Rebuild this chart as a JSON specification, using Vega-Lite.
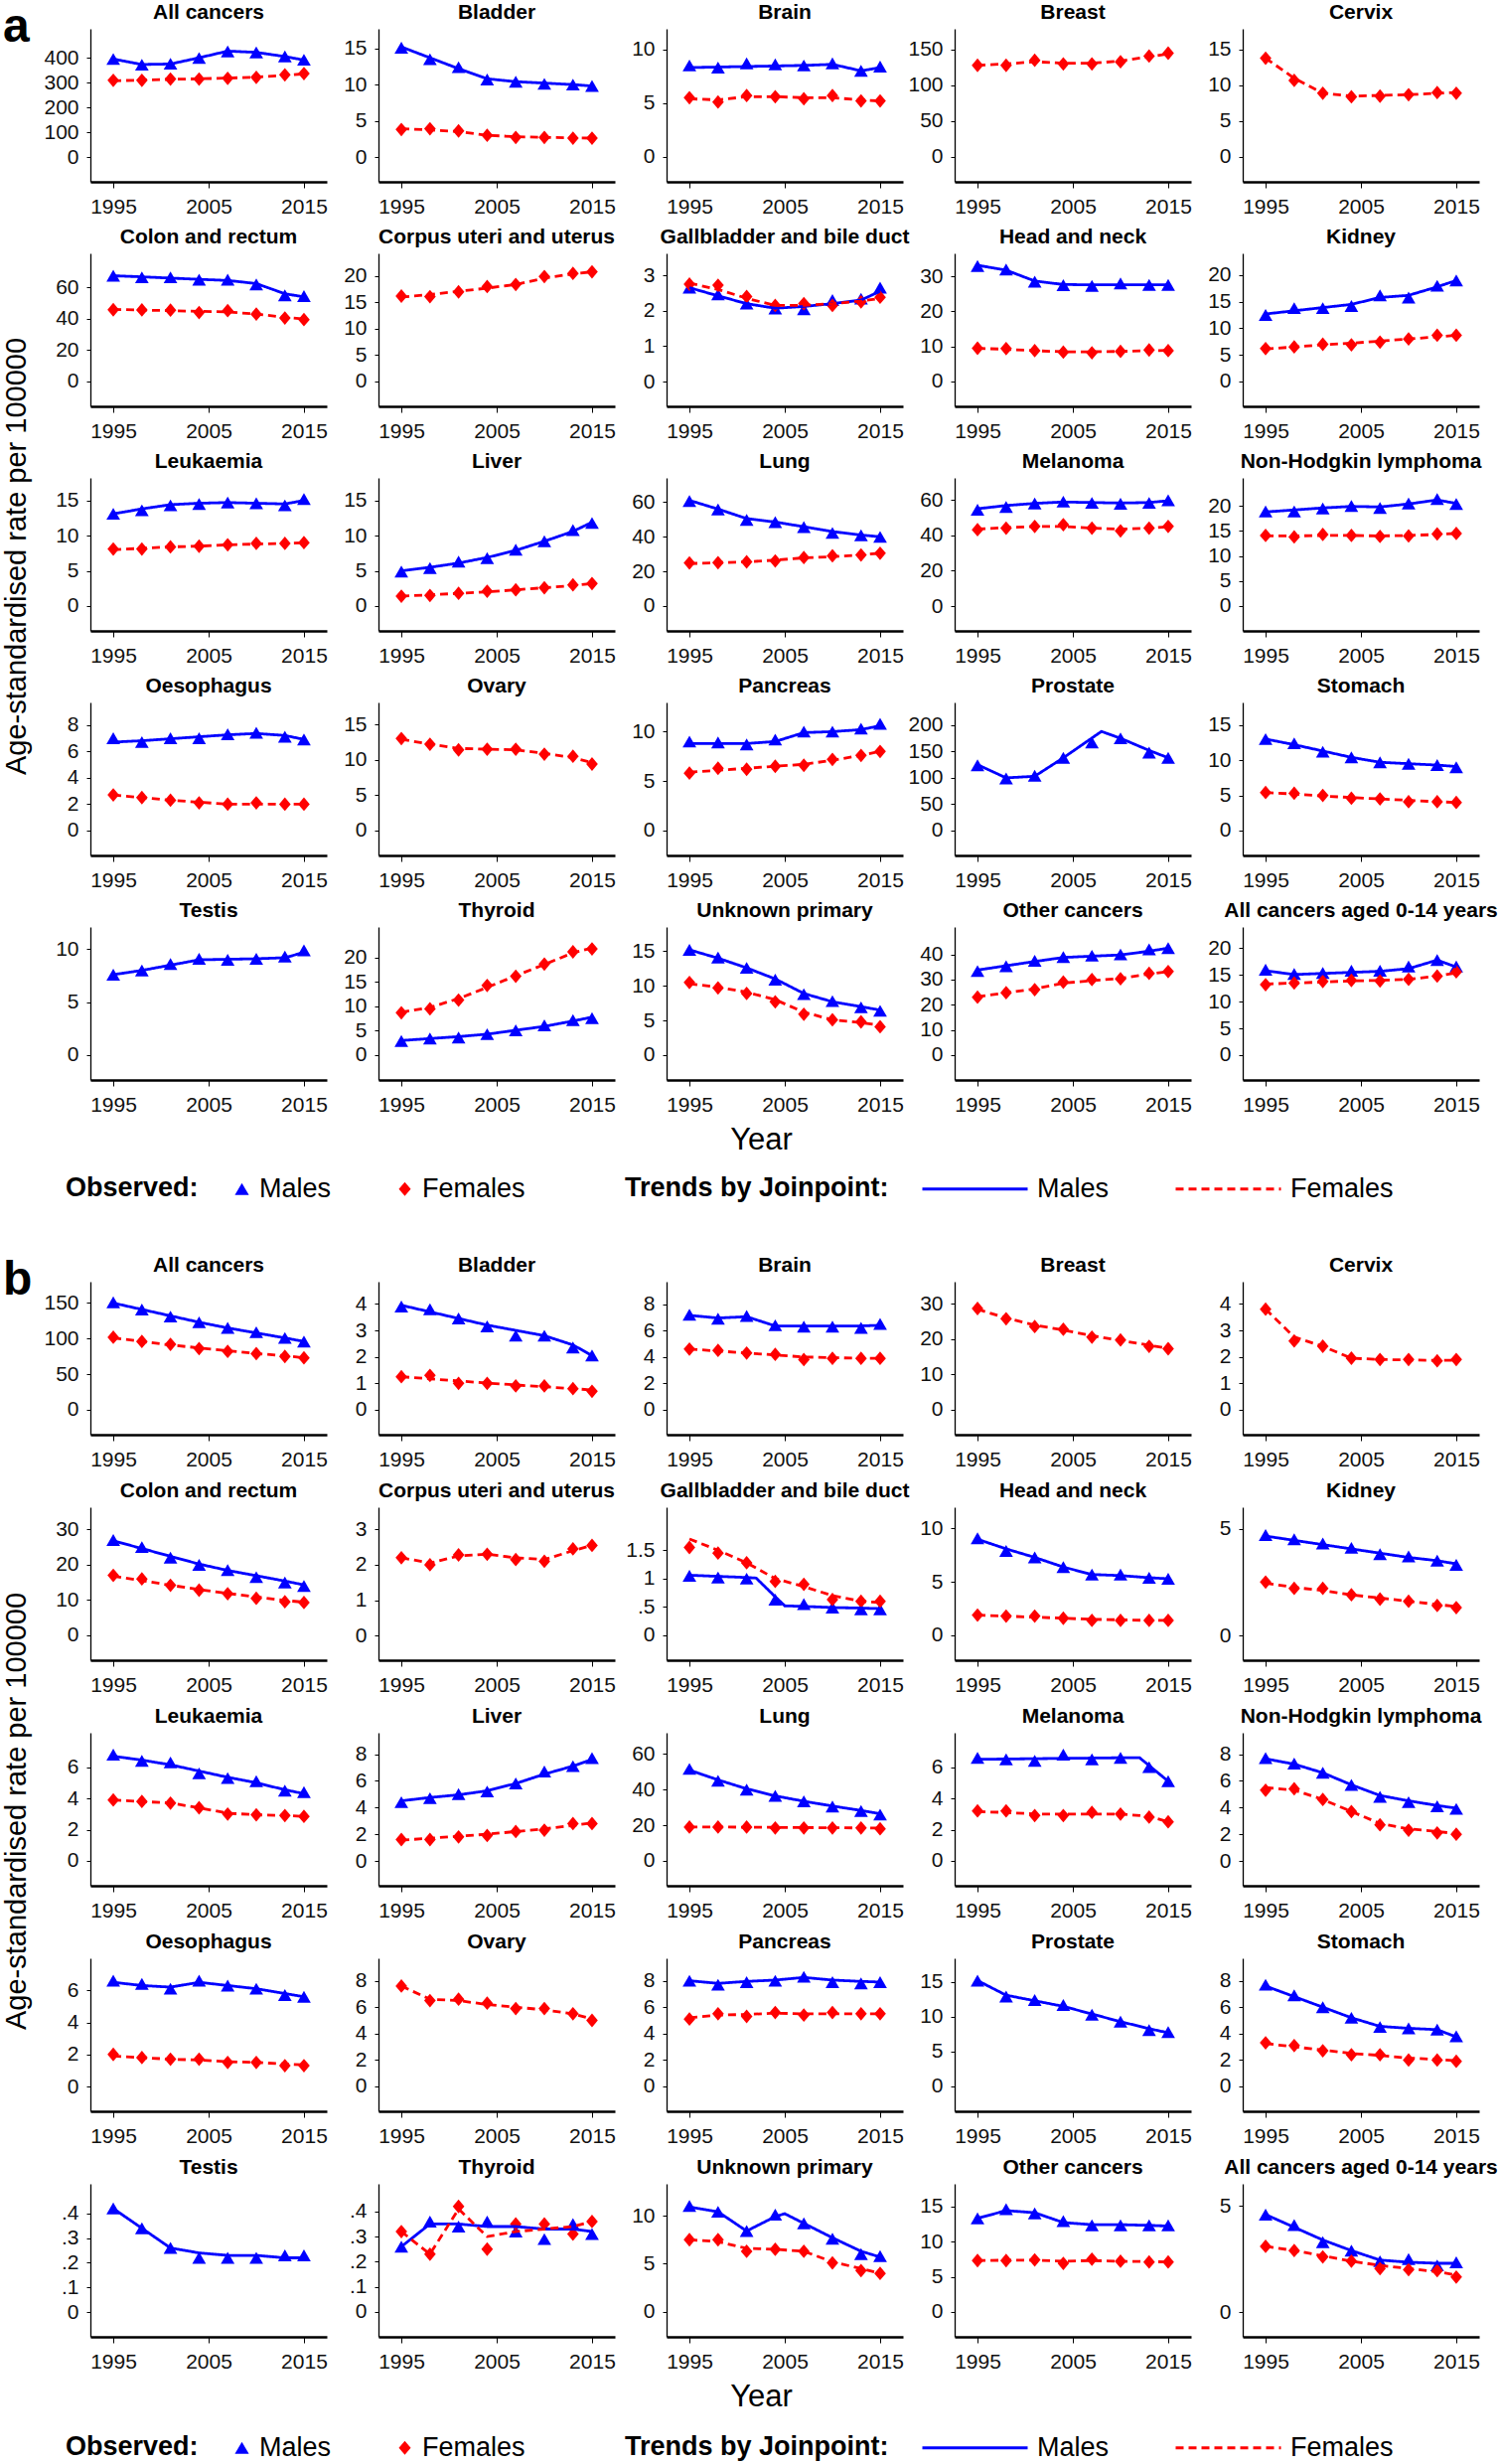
{
"$schema": "https://vega.github.io/schema/vega-lite/v6.json",
"padding": {"left": 2, "top": 2, "right": 2, "bottom": 2},
"datasets": {
"a": [
{"s":"All cancers","yr":1995,"Males":396,"Females":310,"tM":396,"tF":308},
{"s":"All cancers","yr":1998,"Males":373,"Females":310,"tM":374,"tF":311},
{"s":"All cancers","yr":2001,"Males":377,"Females":315,"tM":376,"tF":314},
{"s":"All cancers","yr":2004,"Males":400,"Females":315,"tM":401,"tF":316},
{"s":"All cancers","yr":2007,"Males":427,"Females":318,"tM":428,"tF":319},
{"s":"All cancers","yr":2010,"Males":423,"Females":322,"tM":423,"tF":323},
{"s":"All cancers","yr":2013,"Males":407,"Females":332,"tM":406,"tF":330},
{"s":"All cancers","yr":2015,"Males":393,"Females":337,"tM":392,"tF":336},
{"s":"Bladder","yr":1995,"Males":15.1,"Females":3.8,"tM":15.2,"tF":3.9},
{"s":"Bladder","yr":1998,"Males":13.5,"Females":3.9,"tM":13.7,"tF":3.75},
{"s":"Bladder","yr":2001,"Males":12.4,"Females":3.6,"tM":12.2,"tF":3.5},
{"s":"Bladder","yr":2004,"Males":10.7,"Females":3.0,"tM":10.8,"tF":3.0},
{"s":"Bladder","yr":2007,"Males":10.4,"Females":2.7,"tM":10.4,"tF":2.8},
{"s":"Bladder","yr":2010,"Males":10.1,"Females":2.7,"tM":10.2,"tF":2.7},
{"s":"Bladder","yr":2013,"Males":10.0,"Females":2.6,"tM":10.0,"tF":2.65},
{"s":"Bladder","yr":2015,"Males":9.8,"Females":2.6,"tM":9.8,"tF":2.6},
{"s":"Brain","yr":1995,"Males":8.5,"Females":5.5,"tM":8.3,"tF":5.4},
{"s":"Brain","yr":1998,"Males":8.3,"Females":5.1,"tM":8.35,"tF":5.3},
{"s":"Brain","yr":2001,"Males":8.7,"Females":5.7,"tM":8.4,"tF":5.6},
{"s":"Brain","yr":2004,"Males":8.6,"Females":5.6,"tM":8.45,"tF":5.6},
{"s":"Brain","yr":2007,"Males":8.5,"Females":5.4,"tM":8.5,"tF":5.5},
{"s":"Brain","yr":2010,"Males":8.7,"Females":5.7,"tM":8.6,"tF":5.5},
{"s":"Brain","yr":2013,"Males":8.0,"Females":5.2,"tM":8.0,"tF":5.3},
{"s":"Brain","yr":2015,"Males":8.4,"Females":5.2,"tM":8.3,"tF":5.2},
{"s":"Breast","yr":1995,"Females":128,"tF":128},
{"s":"Breast","yr":1998,"Females":128,"tF":130},
{"s":"Breast","yr":2001,"Females":135,"tF":133},
{"s":"Breast","yr":2004,"Females":130,"tF":131},
{"s":"Breast","yr":2007,"Females":130,"tF":131},
{"s":"Breast","yr":2010,"Females":133,"tF":134},
{"s":"Breast","yr":2013,"Females":141,"tF":140},
{"s":"Breast","yr":2015,"Females":145,"tF":144},
{"s":"Cervix","yr":1995,"Females":13.8,"tF":13.8},
{"s":"Cervix","yr":1998,"Females":10.7,"tF":11.0},
{"s":"Cervix","yr":2001,"Females":8.9,"tF":8.9},
{"s":"Cervix","yr":2004,"Females":8.4,"tF":8.5},
{"s":"Cervix","yr":2007,"Females":8.5,"tF":8.6},
{"s":"Cervix","yr":2010,"Females":8.7,"tF":8.7},
{"s":"Cervix","yr":2013,"Females":9.0,"tF":8.9},
{"s":"Cervix","yr":2015,"Females":8.9,"tF":9.0},
{"s":"Colon and rectum","yr":1995,"Males":67.5,"Females":45.8,"tM":67.5,"tF":46},
{"s":"Colon and rectum","yr":1998,"Males":66.5,"Females":45.7,"tM":66.8,"tF":45.6},
{"s":"Colon and rectum","yr":2001,"Males":66.5,"Females":45.5,"tM":66,"tF":45.2},
{"s":"Colon and rectum","yr":2004,"Males":65,"Females":44,"tM":65.2,"tF":44.8},
{"s":"Colon and rectum","yr":2007,"Males":65,"Females":45.2,"tM":64.5,"tF":44.4},
{"s":"Colon and rectum","yr":2010,"Males":62,"Females":43,"tM":62.5,"tF":43},
{"s":"Colon and rectum","yr":2013,"Males":55,"Females":40.5,"tM":56,"tF":41},
{"s":"Colon and rectum","yr":2015,"Males":54.5,"Females":39.5,"tM":54,"tF":39.8},
{"s":"Corpus uteri and uterus","yr":1995,"Females":16.2,"tF":16},
{"s":"Corpus uteri and uterus","yr":1998,"Females":16.1,"tF":16.5},
{"s":"Corpus uteri and uterus","yr":2001,"Females":17,"tF":17.1},
{"s":"Corpus uteri and uterus","yr":2004,"Females":18,"tF":17.7},
{"s":"Corpus uteri and uterus","yr":2007,"Females":18.4,"tF":18.4},
{"s":"Corpus uteri and uterus","yr":2010,"Females":19.9,"tF":19.6},
{"s":"Corpus uteri and uterus","yr":2013,"Females":20.5,"tF":20.4},
{"s":"Corpus uteri and uterus","yr":2015,"Females":20.8,"tF":20.8},
{"s":"Gallbladder and bile duct","yr":1995,"Males":2.65,"Females":2.75,"tM":2.65,"tF":2.78},
{"s":"Gallbladder and bile duct","yr":1998,"Males":2.46,"Females":2.72,"tM":2.42,"tF":2.6},
{"s":"Gallbladder and bile duct","yr":2001,"Males":2.2,"Females":2.4,"tM":2.2,"tF":2.35},
{"s":"Gallbladder and bile duct","yr":2004,"Males":2.06,"Females":2.15,"tM":2.07,"tF":2.15},
{"s":"Gallbladder and bile duct","yr":2007,"Males":2.04,"Females":2.2,"tM":2.12,"tF":2.15},
{"s":"Gallbladder and bile duct","yr":2010,"Males":2.3,"Females":2.15,"tM":2.2,"tF":2.2},
{"s":"Gallbladder and bile duct","yr":2013,"Males":2.34,"Females":2.25,"tM":2.3,"tF":2.27},
{"s":"Gallbladder and bile duct","yr":2015,"Males":2.65,"Females":2.38,"tM":2.55,"tF":2.35},
{"s":"Head and neck","yr":1995,"Males":33,"Females":9.5,"tM":33.2,"tF":9.5},
{"s":"Head and neck","yr":1998,"Males":32,"Females":9.4,"tM":31.8,"tF":9.2},
{"s":"Head and neck","yr":2001,"Males":28.5,"Females":8.8,"tM":28.7,"tF":8.8},
{"s":"Head and neck","yr":2004,"Males":27.5,"Females":8.4,"tM":27.7,"tF":8.5},
{"s":"Head and neck","yr":2007,"Males":27.3,"Females":8.2,"tM":27.6,"tF":8.5},
{"s":"Head and neck","yr":2010,"Males":28,"Females":8.6,"tM":27.6,"tF":8.6},
{"s":"Head and neck","yr":2013,"Males":27.6,"Females":9.0,"tM":27.6,"tF":8.8},
{"s":"Head and neck","yr":2015,"Males":27.6,"Females":8.8,"tM":27.6,"tF":8.9},
{"s":"Kidney","yr":1995,"Males":12.5,"Females":6.2,"tM":12.7,"tF":6.1},
{"s":"Kidney","yr":1998,"Males":13.8,"Females":6.5,"tM":13.3,"tF":6.5},
{"s":"Kidney","yr":2001,"Males":13.8,"Females":7.0,"tM":13.9,"tF":6.9},
{"s":"Kidney","yr":2004,"Males":14.2,"Females":6.9,"tM":14.5,"tF":7.2},
{"s":"Kidney","yr":2007,"Males":16.2,"Females":7.4,"tM":15.8,"tF":7.6},
{"s":"Kidney","yr":2010,"Males":15.8,"Females":8.0,"tM":16.2,"tF":8.0},
{"s":"Kidney","yr":2013,"Males":18,"Females":8.7,"tM":17.8,"tF":8.4},
{"s":"Kidney","yr":2015,"Males":19,"Females":8.7,"tM":19,"tF":8.7},
{"s":"Leukaemia","yr":1995,"Males":13.1,"Females":8.1,"tM":13.1,"tF":8.0},
{"s":"Leukaemia","yr":1998,"Males":13.6,"Females":8.1,"tM":13.8,"tF":8.2},
{"s":"Leukaemia","yr":2001,"Males":14.3,"Females":8.4,"tM":14.4,"tF":8.4},
{"s":"Leukaemia","yr":2004,"Males":14.5,"Females":8.5,"tM":14.6,"tF":8.5},
{"s":"Leukaemia","yr":2007,"Males":14.7,"Females":8.7,"tM":14.7,"tF":8.7},
{"s":"Leukaemia","yr":2010,"Males":14.6,"Females":8.9,"tM":14.6,"tF":8.8},
{"s":"Leukaemia","yr":2013,"Males":14.3,"Females":8.9,"tM":14.5,"tF":8.9},
{"s":"Leukaemia","yr":2015,"Males":15.2,"Females":9.0,"tM":15.0,"tF":9.0},
{"s":"Liver","yr":1995,"Males":4.9,"Females":1.4,"tM":5.0,"tF":1.4},
{"s":"Liver","yr":1998,"Males":5.4,"Females":1.5,"tM":5.5,"tF":1.6},
{"s":"Liver","yr":2001,"Males":6.3,"Females":1.8,"tM":6.1,"tF":1.8},
{"s":"Liver","yr":2004,"Males":6.8,"Females":2.1,"tM":6.9,"tF":2.0},
{"s":"Liver","yr":2007,"Males":8.0,"Females":2.3,"tM":7.9,"tF":2.3},
{"s":"Liver","yr":2010,"Males":9.2,"Females":2.6,"tM":9.2,"tF":2.6},
{"s":"Liver","yr":2013,"Males":10.8,"Females":3.0,"tM":10.6,"tF":2.9},
{"s":"Liver","yr":2015,"Males":11.8,"Females":3.2,"tM":11.9,"tF":3.2},
{"s":"Lung","yr":1995,"Males":60.6,"Females":24.9,"tM":61,"tF":24.5},
{"s":"Lung","yr":1998,"Males":55.8,"Females":25,"tM":56,"tF":25},
{"s":"Lung","yr":2001,"Males":49.8,"Females":25.5,"tM":50.5,"tF":25.5},
{"s":"Lung","yr":2004,"Males":48.5,"Females":26,"tM":48.5,"tF":26.5},
{"s":"Lung","yr":2007,"Males":45.6,"Females":28,"tM":45.8,"tF":27.8},
{"s":"Lung","yr":2010,"Males":42.2,"Females":29,"tM":43,"tF":28.5},
{"s":"Lung","yr":2013,"Males":40.8,"Females":29.5,"tM":41,"tF":29.5},
{"s":"Lung","yr":2015,"Males":39.9,"Females":30.5,"tM":40,"tF":30.5},
{"s":"Melanoma","yr":1995,"Males":54.4,"Females":43.1,"tM":55,"tF":43.5},
{"s":"Melanoma","yr":1998,"Males":56,"Females":44,"tM":56.8,"tF":44.3},
{"s":"Melanoma","yr":2001,"Males":58,"Females":45,"tM":58,"tF":45},
{"s":"Melanoma","yr":2004,"Males":59,"Females":46,"tM":58.8,"tF":45},
{"s":"Melanoma","yr":2007,"Males":58.3,"Females":44,"tM":58.5,"tF":44},
{"s":"Melanoma","yr":2010,"Males":57.8,"Females":42.5,"tM":58.2,"tF":43.5},
{"s":"Melanoma","yr":2013,"Males":58.3,"Females":44,"tM":58.5,"tF":44},
{"s":"Melanoma","yr":2015,"Males":59.8,"Females":45,"tM":59.5,"tF":44.8},
{"s":"Non-Hodgkin lymphoma","yr":1995,"Males":18.9,"Females":14.1,"tM":18.8,"tF":14.0},
{"s":"Non-Hodgkin lymphoma","yr":1998,"Males":18.9,"Females":13.8,"tM":19.2,"tF":14.0},
{"s":"Non-Hodgkin lymphoma","yr":2001,"Males":19.5,"Females":14.3,"tM":19.6,"tF":14.1},
{"s":"Non-Hodgkin lymphoma","yr":2004,"Males":20,"Females":14.1,"tM":19.9,"tF":14.1},
{"s":"Non-Hodgkin lymphoma","yr":2007,"Males":19.6,"Females":13.9,"tM":19.8,"tF":14.0},
{"s":"Non-Hodgkin lymphoma","yr":2010,"Males":20.5,"Females":14.0,"tM":20.4,"tF":14.1},
{"s":"Non-Hodgkin lymphoma","yr":2013,"Males":21.4,"Females":14.4,"tM":21.2,"tF":14.3},
{"s":"Non-Hodgkin lymphoma","yr":2015,"Males":20.4,"Females":14.5,"tM":20.5,"tF":14.5},
{"s":"Oesophagus","yr":1995,"Males":7.0,"Females":2.7,"tM":6.7,"tF":2.7},
{"s":"Oesophagus","yr":1998,"Males":6.7,"Females":2.5,"tM":6.8,"tF":2.5},
{"s":"Oesophagus","yr":2001,"Males":7.0,"Females":2.3,"tM":6.95,"tF":2.3},
{"s":"Oesophagus","yr":2004,"Males":7.0,"Females":2.1,"tM":7.1,"tF":2.15},
{"s":"Oesophagus","yr":2007,"Males":7.3,"Females":2.0,"tM":7.25,"tF":2.0},
{"s":"Oesophagus","yr":2010,"Males":7.4,"Females":2.1,"tM":7.35,"tF":2.0},
{"s":"Oesophagus","yr":2013,"Males":7.1,"Females":2.0,"tM":7.2,"tF":2.0},
{"s":"Oesophagus","yr":2015,"Males":6.9,"Females":2.0,"tM":6.9,"tF":2.0},
{"s":"Ovary","yr":1995,"Females":13.0,"tF":12.9},
{"s":"Ovary","yr":1998,"Females":12.2,"tF":12.2},
{"s":"Ovary","yr":2001,"Females":11.4,"tF":11.6},
{"s":"Ovary","yr":2004,"Females":11.5,"tF":11.5},
{"s":"Ovary","yr":2007,"Females":11.5,"tF":11.4},
{"s":"Ovary","yr":2010,"Females":10.8,"tF":10.9},
{"s":"Ovary","yr":2013,"Females":10.5,"tF":10.3},
{"s":"Ovary","yr":2015,"Females":9.4,"tF":9.6},
{"s":"Pancreas","yr":1995,"Males":9.0,"Females":5.8,"tM":8.8,"tF":5.9},
{"s":"Pancreas","yr":1998,"Males":8.9,"Females":6.3,"tM":8.8,"tF":6.1},
{"s":"Pancreas","yr":2001,"Males":8.7,"Females":6.2,"tM":8.8,"tF":6.3},
{"s":"Pancreas","yr":2004,"Males":9.2,"Females":6.5,"tM":9.0,"tF":6.5},
{"s":"Pancreas","yr":2007,"Males":10.0,"Females":6.6,"tM":9.9,"tF":6.7},
{"s":"Pancreas","yr":2010,"Males":10.0,"Females":7.2,"tM":10.0,"tF":7.1},
{"s":"Pancreas","yr":2013,"Males":10.3,"Females":7.6,"tM":10.2,"tF":7.6},
{"s":"Pancreas","yr":2015,"Males":10.8,"Females":8.0,"tM":10.6,"tF":8.0},
{"s":"Prostate","yr":1995,"Males":124,"tM":125},
{"s":"Prostate","yr":1998,"Males":99,"tM":100},
{"s":"Prostate","yr":2001,"Males":104,"tM":103},
{"s":"Prostate","yr":2004,"Males":138,"tM":138},
{"s":"Prostate","yr":2007,"Males":167},
{"s":"Prostate","yr":2008,"tM":188},
{"s":"Prostate","yr":2010,"Males":175,"tM":175},
{"s":"Prostate","yr":2013,"Males":148,"tM":152},
{"s":"Prostate","yr":2015,"Males":138,"tM":138},
{"s":"Stomach","yr":1995,"Males":13.0,"Females":5.4,"tM":13.0,"tF":5.4},
{"s":"Stomach","yr":1998,"Males":12.4,"Females":5.3,"tM":12.2,"tF":5.2},
{"s":"Stomach","yr":2001,"Males":11.2,"Females":5.0,"tM":11.3,"tF":4.9},
{"s":"Stomach","yr":2004,"Males":10.4,"Females":4.6,"tM":10.4,"tF":4.7},
{"s":"Stomach","yr":2007,"Males":9.7,"Females":4.5,"tM":9.7,"tF":4.5},
{"s":"Stomach","yr":2010,"Males":9.5,"Females":4.1,"tM":9.5,"tF":4.3},
{"s":"Stomach","yr":2013,"Males":9.3,"Females":4.1,"tM":9.3,"tF":4.1},
{"s":"Stomach","yr":2015,"Males":9.0,"Females":4.0,"tM":9.1,"tF":4.0},
{"s":"Testis","yr":1995,"Males":7.6,"tM":7.6},
{"s":"Testis","yr":1998,"Males":8.0,"tM":8.0},
{"s":"Testis","yr":2001,"Males":8.6,"tM":8.5},
{"s":"Testis","yr":2004,"Males":9.1,"tM":9.0},
{"s":"Testis","yr":2007,"Males":9.0,"tM":9.05},
{"s":"Testis","yr":2010,"Males":9.1,"tM":9.1},
{"s":"Testis","yr":2013,"Males":9.3,"tM":9.2},
{"s":"Testis","yr":2015,"Males":9.9,"tM":9.7},
{"s":"Thyroid","yr":1995,"Males":2.9,"Females":8.7,"tM":3.0,"tF":8.8},
{"s":"Thyroid","yr":1998,"Males":3.4,"Females":9.5,"tM":3.4,"tF":9.8},
{"s":"Thyroid","yr":2001,"Males":3.6,"Females":11.3,"tM":3.8,"tF":11.6},
{"s":"Thyroid","yr":2004,"Males":4.3,"Females":14.3,"tM":4.3,"tF":13.9},
{"s":"Thyroid","yr":2007,"Males":5.1,"Females":16.2,"tM":5.1,"tF":16.3},
{"s":"Thyroid","yr":2010,"Males":6.1,"Females":18.7,"tM":5.9,"tF":18.6},
{"s":"Thyroid","yr":2013,"Males":7.2,"Females":21.2,"tM":7.0,"tF":21.0},
{"s":"Thyroid","yr":2015,"Males":7.6,"Females":21.8,"tM":7.8,"tF":22.0},
{"s":"Unknown primary","yr":1995,"Males":15.2,"Females":10.5,"tM":15.2,"tF":10.3},
{"s":"Unknown primary","yr":1998,"Males":14.1,"Females":9.7,"tM":14.0,"tF":9.8},
{"s":"Unknown primary","yr":2001,"Males":12.6,"Females":8.9,"tM":12.6,"tF":9.1},
{"s":"Unknown primary","yr":2004,"Males":10.9,"Females":7.7,"tM":11.0,"tF":8.0},
{"s":"Unknown primary","yr":2007,"Males":8.8,"Females":5.9,"tM":8.9,"tF":6.2},
{"s":"Unknown primary","yr":2010,"Males":7.8,"Females":5.1,"tM":7.7,"tF":5.1},
{"s":"Unknown primary","yr":2013,"Males":6.9,"Females":4.8,"tM":7.0,"tF":4.7},
{"s":"Unknown primary","yr":2015,"Males":6.4,"Females":4.1,"tM":6.5,"tF":4.3},
{"s":"Other cancers","yr":1995,"Males":33.4,"Females":23,"tM":33.8,"tF":23.2},
{"s":"Other cancers","yr":1998,"Males":35.3,"Females":24.8,"tM":35.5,"tF":24.8},
{"s":"Other cancers","yr":2001,"Males":37.5,"Females":26,"tM":37.2,"tF":26.3},
{"s":"Other cancers","yr":2004,"Males":39,"Females":29,"tM":38.8,"tF":28.6},
{"s":"Other cancers","yr":2007,"Males":39.5,"Females":30,"tM":39.3,"tF":29.6},
{"s":"Other cancers","yr":2010,"Males":40,"Females":30.3,"tM":39.8,"tF":30.5},
{"s":"Other cancers","yr":2013,"Males":42,"Females":32.5,"tM":41.3,"tF":32.2},
{"s":"Other cancers","yr":2015,"Males":42.5,"Females":33.2,"tM":42.5,"tF":33.2},
{"s":"All cancers aged 0-14 years","yr":1995,"Males":16.0,"Females":13.2,"tM":15.8,"tF":13.3},
{"s":"All cancers aged 0-14 years","yr":1998,"Males":15.2,"Females":13.5,"tM":15.1,"tF":13.5},
{"s":"All cancers aged 0-14 years","yr":2001,"Males":15.4,"Females":13.8,"tM":15.3,"tF":13.7},
{"s":"All cancers aged 0-14 years","yr":2004,"Males":15.8,"Females":14.0,"tM":15.5,"tF":13.9},
{"s":"All cancers aged 0-14 years","yr":2007,"Males":15.8,"Females":13.9,"tM":15.7,"tF":14.0},
{"s":"All cancers aged 0-14 years","yr":2010,"Males":16.6,"Females":14.2,"tM":16.2,"tF":14.2},
{"s":"All cancers aged 0-14 years","yr":2013,"Males":17.8,"Females":14.8,"tM":17.8,"tF":14.8},
{"s":"All cancers aged 0-14 years","yr":2015,"Males":16.6,"Females":15.6,"tM":16.5,"tF":15.4}
],
"b": [
{"s":"All cancers","yr":1995,"Males":151,"Females":102,"tM":150,"tF":101},
{"s":"All cancers","yr":1998,"Males":141,"Females":96,"tM":141,"tF":96},
{"s":"All cancers","yr":2001,"Males":131,"Females":92,"tM":132,"tF":91},
{"s":"All cancers","yr":2004,"Males":123,"Females":86,"tM":123,"tF":87},
{"s":"All cancers","yr":2007,"Males":115,"Females":82,"tM":115,"tF":83},
{"s":"All cancers","yr":2010,"Males":109,"Females":79,"tM":108,"tF":79},
{"s":"All cancers","yr":2013,"Males":101,"Females":75,"tM":101,"tF":76},
{"s":"All cancers","yr":2015,"Males":96,"Females":73,"tM":96,"tF":73},
{"s":"Bladder","yr":1995,"Males":3.9,"Females":1.25,"tM":3.95,"tF":1.25},
{"s":"Bladder","yr":1998,"Males":3.8,"Females":1.3,"tM":3.7,"tF":1.17},
{"s":"Bladder","yr":2001,"Males":3.45,"Females":1.0,"tM":3.45,"tF":1.09},
{"s":"Bladder","yr":2004,"Males":3.15,"Females":1.0,"tM":3.2,"tF":1.01},
{"s":"Bladder","yr":2007,"Males":2.8,"Females":0.9,"tM":3.0,"tF":0.94},
{"s":"Bladder","yr":2010,"Males":2.8,"Females":0.9,"tM":2.8,"tF":0.87},
{"s":"Bladder","yr":2013,"Males":2.35,"Females":0.8,"tM":2.45,"tF":0.8},
{"s":"Bladder","yr":2015,"Males":2.05,"Females":0.7,"tM":2.05,"tF":0.75},
{"s":"Brain","yr":1995,"Males":7.2,"Females":4.6,"tM":7.15,"tF":4.6},
{"s":"Brain","yr":1998,"Males":6.9,"Females":4.5,"tM":6.95,"tF":4.45},
{"s":"Brain","yr":2001,"Males":7.1,"Females":4.3,"tM":7.05,"tF":4.3},
{"s":"Brain","yr":2004,"Males":6.4,"Females":4.2,"tM":6.35,"tF":4.15},
{"s":"Brain","yr":2007,"Males":6.3,"Females":3.8,"tM":6.35,"tF":4.0},
{"s":"Brain","yr":2010,"Males":6.3,"Females":3.9,"tM":6.35,"tF":3.95},
{"s":"Brain","yr":2013,"Males":6.2,"Females":3.9,"tM":6.35,"tF":3.9},
{"s":"Brain","yr":2015,"Males":6.5,"Females":3.9,"tM":6.4,"tF":3.9},
{"s":"Breast","yr":1995,"Females":28.7,"tF":28.5},
{"s":"Breast","yr":1998,"Females":25.8,"tF":26.0},
{"s":"Breast","yr":2001,"Females":23.6,"tF":24.0},
{"s":"Breast","yr":2004,"Females":22.8,"tF":22.6},
{"s":"Breast","yr":2007,"Females":20.6,"tF":21.0},
{"s":"Breast","yr":2010,"Females":19.8,"tF":19.6},
{"s":"Breast","yr":2013,"Females":18.0,"tF":18.3},
{"s":"Breast","yr":2015,"Females":17.3,"tF":17.4},
{"s":"Cervix","yr":1995,"Females":3.8,"tF":3.8},
{"s":"Cervix","yr":1998,"Females":2.6,"tF":2.75},
{"s":"Cervix","yr":2001,"Females":2.4,"tF":2.4},
{"s":"Cervix","yr":2004,"Females":1.95,"tF":1.95},
{"s":"Cervix","yr":2007,"Females":1.9,"tF":1.9},
{"s":"Cervix","yr":2010,"Females":1.9,"tF":1.88},
{"s":"Cervix","yr":2013,"Females":1.85,"tF":1.87},
{"s":"Cervix","yr":2015,"Females":1.9,"tF":1.87},
{"s":"Colon and rectum","yr":1995,"Males":27,"Females":17,"tM":26.8,"tF":16.8},
{"s":"Colon and rectum","yr":1998,"Males":25,"Females":16,"tM":24.6,"tF":15.5},
{"s":"Colon and rectum","yr":2001,"Males":22,"Females":14.2,"tM":22.4,"tF":14.2},
{"s":"Colon and rectum","yr":2004,"Males":20,"Females":12.8,"tM":20.2,"tF":13},
{"s":"Colon and rectum","yr":2007,"Males":18.5,"Females":11.8,"tM":18.4,"tF":11.9},
{"s":"Colon and rectum","yr":2010,"Males":16.5,"Females":10.5,"tM":16.9,"tF":10.9},
{"s":"Colon and rectum","yr":2013,"Males":15,"Females":9.5,"tM":15.4,"tF":9.9},
{"s":"Colon and rectum","yr":2015,"Males":14,"Females":9.3,"tM":14.3,"tF":9.4},
{"s":"Corpus uteri and uterus","yr":1995,"Females":2.2,"tF":2.2},
{"s":"Corpus uteri and uterus","yr":1998,"Females":2.0,"tF":2.05},
{"s":"Corpus uteri and uterus","yr":2001,"Females":2.28,"tF":2.25},
{"s":"Corpus uteri and uterus","yr":2004,"Females":2.3,"tF":2.3},
{"s":"Corpus uteri and uterus","yr":2007,"Females":2.15,"tF":2.2},
{"s":"Corpus uteri and uterus","yr":2010,"Females":2.1,"tF":2.15},
{"s":"Corpus uteri and uterus","yr":2013,"Females":2.45,"tF":2.4},
{"s":"Corpus uteri and uterus","yr":2015,"Females":2.55,"tF":2.55},
{"s":"Gallbladder and bile duct","yr":1995,"Males":1.05,"Females":1.55,"tM":1.06,"tF":1.7},
{"s":"Gallbladder and bile duct","yr":1998,"Males":1.02,"Females":1.45,"tM":1.04,"tF":1.5},
{"s":"Gallbladder and bile duct","yr":2001,"Males":1.0,"Females":1.28,"tM":1.02,"tF":1.28},
{"s":"Gallbladder and bile duct","yr":2002,"tM":1.01},
{"s":"Gallbladder and bile duct","yr":2004,"Males":0.63,"Females":0.95,"tM":0.68,"tF":1.0},
{"s":"Gallbladder and bile duct","yr":2005,"tM":0.52},
{"s":"Gallbladder and bile duct","yr":2007,"Males":0.55,"Females":0.9,"tM":0.51,"tF":0.86},
{"s":"Gallbladder and bile duct","yr":2010,"Males":0.49,"Females":0.63,"tM":0.49,"tF":0.7},
{"s":"Gallbladder and bile duct","yr":2013,"Males":0.46,"Females":0.6,"tM":0.48,"tF":0.6},
{"s":"Gallbladder and bile duct","yr":2015,"Males":0.46,"Females":0.6,"tM":0.47,"tF":0.58},
{"s":"Head and neck","yr":1995,"Males":9.1,"Females":1.9,"tM":9.0,"tF":1.9},
{"s":"Head and neck","yr":1998,"Males":7.9,"Females":1.8,"tM":8.1,"tF":1.8},
{"s":"Head and neck","yr":2001,"Males":7.3,"Females":1.8,"tM":7.3,"tF":1.7},
{"s":"Head and neck","yr":2004,"Males":6.4,"Females":1.6,"tM":6.4,"tF":1.6},
{"s":"Head and neck","yr":2007,"Males":5.7,"Females":1.4,"tM":5.7,"tF":1.5},
{"s":"Head and neck","yr":2010,"Males":5.7,"Females":1.4,"tM":5.6,"tF":1.45},
{"s":"Head and neck","yr":2013,"Males":5.4,"Females":1.4,"tM":5.4,"tF":1.4},
{"s":"Head and neck","yr":2015,"Males":5.3,"Females":1.4,"tM":5.3,"tF":1.4},
{"s":"Kidney","yr":1995,"Males":4.7,"Females":2.5,"tM":4.65,"tF":2.45},
{"s":"Kidney","yr":1998,"Males":4.5,"Females":2.2,"tM":4.45,"tF":2.25},
{"s":"Kidney","yr":2001,"Males":4.3,"Females":2.2,"tM":4.25,"tF":2.1},
{"s":"Kidney","yr":2004,"Males":4.1,"Females":1.9,"tM":4.05,"tF":1.9},
{"s":"Kidney","yr":2007,"Males":3.8,"Females":1.7,"tM":3.85,"tF":1.75},
{"s":"Kidney","yr":2010,"Males":3.7,"Females":1.6,"tM":3.65,"tF":1.6},
{"s":"Kidney","yr":2013,"Males":3.5,"Females":1.4,"tM":3.5,"tF":1.45},
{"s":"Kidney","yr":2015,"Males":3.3,"Females":1.3,"tM":3.35,"tF":1.35},
{"s":"Leukaemia","yr":1995,"Males":6.8,"Females":3.9,"tM":6.7,"tF":3.9},
{"s":"Leukaemia","yr":1998,"Males":6.4,"Females":3.8,"tM":6.45,"tF":3.8},
{"s":"Leukaemia","yr":2001,"Males":6.3,"Females":3.7,"tM":6.15,"tF":3.7},
{"s":"Leukaemia","yr":2004,"Males":5.6,"Females":3.4,"tM":5.75,"tF":3.4},
{"s":"Leukaemia","yr":2007,"Males":5.3,"Females":3.0,"tM":5.35,"tF":3.05},
{"s":"Leukaemia","yr":2010,"Males":5.1,"Females":2.95,"tM":5.0,"tF":2.95},
{"s":"Leukaemia","yr":2013,"Males":4.5,"Females":2.9,"tM":4.55,"tF":2.9},
{"s":"Leukaemia","yr":2015,"Males":4.4,"Females":2.85,"tM":4.3,"tF":2.85},
{"s":"Liver","yr":1995,"Males":4.4,"Females":1.6,"tM":4.5,"tF":1.55},
{"s":"Liver","yr":1998,"Males":4.7,"Females":1.6,"tM":4.75,"tF":1.7},
{"s":"Liver","yr":2001,"Males":5.0,"Females":1.8,"tM":4.95,"tF":1.85},
{"s":"Liver","yr":2004,"Males":5.2,"Females":1.9,"tM":5.25,"tF":2.0},
{"s":"Liver","yr":2007,"Males":5.8,"Females":2.2,"tM":5.8,"tF":2.2},
{"s":"Liver","yr":2010,"Males":6.7,"Females":2.3,"tM":6.5,"tF":2.4},
{"s":"Liver","yr":2013,"Males":7.1,"Females":2.8,"tM":7.1,"tF":2.65},
{"s":"Liver","yr":2015,"Males":7.7,"Females":2.8,"tM":7.6,"tF":2.85},
{"s":"Lung","yr":1995,"Males":51.7,"Females":19,"tM":51,"tF":19},
{"s":"Lung","yr":1998,"Males":45,"Females":19,"tM":45.5,"tF":19},
{"s":"Lung","yr":2001,"Males":40,"Females":19,"tM":40.5,"tF":18.9},
{"s":"Lung","yr":2004,"Males":36.5,"Females":18.5,"tM":36.5,"tF":18.8},
{"s":"Lung","yr":2007,"Males":33.5,"Females":18.5,"tM":33.5,"tF":18.7},
{"s":"Lung","yr":2010,"Males":30.5,"Females":18.5,"tM":30.8,"tF":18.6},
{"s":"Lung","yr":2013,"Males":28,"Females":18.5,"tM":28.3,"tF":18.5},
{"s":"Lung","yr":2015,"Males":26,"Females":18,"tM":26.5,"tF":18.4},
{"s":"Melanoma","yr":1995,"Males":6.6,"Females":3.2,"tM":6.5,"tF":3.15},
{"s":"Melanoma","yr":1998,"Males":6.5,"Females":3.2,"tM":6.52,"tF":3.1},
{"s":"Melanoma","yr":2001,"Males":6.4,"Females":2.9,"tM":6.54,"tF":3.0},
{"s":"Melanoma","yr":2004,"Males":6.8,"Females":2.9,"tM":6.56,"tF":3.0},
{"s":"Melanoma","yr":2007,"Males":6.5,"Females":3.1,"tM":6.58,"tF":3.0},
{"s":"Melanoma","yr":2010,"Males":6.6,"Females":3.0,"tM":6.6,"tF":3.0},
{"s":"Melanoma","yr":2012,"tM":6.6},
{"s":"Melanoma","yr":2013,"Males":6.0,"Females":2.8,"tM":6.1,"tF":2.85},
{"s":"Melanoma","yr":2015,"Males":5.1,"Females":2.5,"tM":5.1,"tF":2.5},
{"s":"Non-Hodgkin lymphoma","yr":1995,"Males":7.7,"Females":5.3,"tM":7.65,"tF":5.5},
{"s":"Non-Hodgkin lymphoma","yr":1998,"Males":7.3,"Females":5.4,"tM":7.25,"tF":5.3},
{"s":"Non-Hodgkin lymphoma","yr":2001,"Males":6.6,"Females":4.6,"tM":6.6,"tF":4.6},
{"s":"Non-Hodgkin lymphoma","yr":2004,"Males":5.7,"Females":3.7,"tM":5.7,"tF":3.7},
{"s":"Non-Hodgkin lymphoma","yr":2007,"Males":4.8,"Females":2.7,"tM":4.9,"tF":2.8},
{"s":"Non-Hodgkin lymphoma","yr":2010,"Males":4.4,"Females":2.3,"tM":4.5,"tF":2.4},
{"s":"Non-Hodgkin lymphoma","yr":2013,"Males":4.1,"Females":2.1,"tM":4.15,"tF":2.2},
{"s":"Non-Hodgkin lymphoma","yr":2015,"Males":3.9,"Females":2.0,"tM":3.95,"tF":2.05},
{"s":"Oesophagus","yr":1995,"Males":6.6,"Females":2.0,"tM":6.5,"tF":1.9},
{"s":"Oesophagus","yr":1998,"Males":6.4,"Females":1.8,"tM":6.3,"tF":1.8},
{"s":"Oesophagus","yr":2001,"Males":6.1,"Females":1.7,"tM":6.2,"tF":1.7},
{"s":"Oesophagus","yr":2004,"Males":6.6,"Females":1.7,"tM":6.5,"tF":1.65},
{"s":"Oesophagus","yr":2007,"Males":6.3,"Females":1.5,"tM":6.3,"tF":1.55},
{"s":"Oesophagus","yr":2010,"Males":6.1,"Females":1.5,"tM":6.1,"tF":1.5},
{"s":"Oesophagus","yr":2013,"Males":5.7,"Females":1.3,"tM":5.8,"tF":1.4},
{"s":"Oesophagus","yr":2015,"Males":5.6,"Females":1.3,"tM":5.6,"tF":1.35},
{"s":"Ovary","yr":1995,"Females":7.6,"tF":7.6},
{"s":"Ovary","yr":1998,"Females":6.5,"tF":6.6},
{"s":"Ovary","yr":2001,"Females":6.6,"tF":6.5},
{"s":"Ovary","yr":2004,"Females":6.3,"tF":6.2},
{"s":"Ovary","yr":2007,"Females":5.9,"tF":6.0},
{"s":"Ovary","yr":2010,"Females":5.9,"tF":5.8},
{"s":"Ovary","yr":2013,"Females":5.5,"tF":5.5},
{"s":"Ovary","yr":2015,"Females":5.0,"tF":5.1},
{"s":"Pancreas","yr":1995,"Males":8.0,"Females":5.1,"tM":8.0,"tF":5.2},
{"s":"Pancreas","yr":1998,"Males":7.7,"Females":5.5,"tM":7.8,"tF":5.4},
{"s":"Pancreas","yr":2001,"Males":7.9,"Females":5.3,"tM":7.95,"tF":5.45},
{"s":"Pancreas","yr":2004,"Males":8.0,"Females":5.6,"tM":8.05,"tF":5.55},
{"s":"Pancreas","yr":2007,"Males":8.3,"Females":5.4,"tM":8.25,"tF":5.5},
{"s":"Pancreas","yr":2010,"Males":7.9,"Females":5.6,"tM":8.05,"tF":5.5},
{"s":"Pancreas","yr":2013,"Males":7.8,"Females":5.5,"tM":7.95,"tF":5.5},
{"s":"Pancreas","yr":2015,"Males":7.9,"Females":5.5,"tM":7.9,"tF":5.5},
{"s":"Prostate","yr":1995,"Males":15.2,"tM":15.2},
{"s":"Prostate","yr":1998,"Males":12.9,"tM":13.1},
{"s":"Prostate","yr":2001,"Males":12.4,"tM":12.3},
{"s":"Prostate","yr":2004,"Males":11.7,"tM":11.5},
{"s":"Prostate","yr":2007,"Males":10.3,"tM":10.4},
{"s":"Prostate","yr":2010,"Males":9.3,"tM":9.3},
{"s":"Prostate","yr":2013,"Males":8.1,"tM":8.3},
{"s":"Prostate","yr":2015,"Males":7.8,"tM":7.7},
{"s":"Stomach","yr":1995,"Males":7.7,"Females":3.3,"tM":7.6,"tF":3.25},
{"s":"Stomach","yr":1998,"Males":6.9,"Females":3.1,"tM":6.8,"tF":3.0},
{"s":"Stomach","yr":2001,"Males":6.0,"Females":2.7,"tM":6.0,"tF":2.75},
{"s":"Stomach","yr":2004,"Males":5.2,"Females":2.4,"tM":5.2,"tF":2.5},
{"s":"Stomach","yr":2007,"Males":4.5,"Females":2.4,"tM":4.55,"tF":2.35},
{"s":"Stomach","yr":2010,"Males":4.4,"Females":2.0,"tM":4.4,"tF":2.15},
{"s":"Stomach","yr":2013,"Males":4.3,"Females":2.0,"tM":4.3,"tF":2.05},
{"s":"Stomach","yr":2015,"Males":3.8,"Females":1.9,"tM":3.75,"tF":1.95},
{"s":"Testis","yr":1995,"Males":0.42,"tM":0.42},
{"s":"Testis","yr":1998,"Males":0.34,"tM":0.34},
{"s":"Testis","yr":2001,"Males":0.26,"tM":0.26},
{"s":"Testis","yr":2004,"Males":0.22,"tM":0.24},
{"s":"Testis","yr":2007,"Males":0.22,"tM":0.23},
{"s":"Testis","yr":2010,"Males":0.22,"tM":0.23},
{"s":"Testis","yr":2013,"Males":0.23,"tM":0.22},
{"s":"Testis","yr":2015,"Males":0.23,"tM":0.22},
{"s":"Thyroid","yr":1995,"Males":0.26,"Females":0.32,"tM":0.26,"tF":0.32},
{"s":"Thyroid","yr":1998,"Males":0.36,"Females":0.23,"tM":0.35,"tF":0.23},
{"s":"Thyroid","yr":2001,"Males":0.34,"Females":0.42,"tM":0.35,"tF":0.41},
{"s":"Thyroid","yr":2004,"Males":0.36,"Females":0.25,"tM":0.34,"tF":0.30},
{"s":"Thyroid","yr":2007,"Males":0.32,"Females":0.35,"tM":0.34,"tF":0.32},
{"s":"Thyroid","yr":2010,"Males":0.29,"Females":0.35,"tM":0.33,"tF":0.33},
{"s":"Thyroid","yr":2013,"Males":0.35,"Females":0.31,"tM":0.33,"tF":0.34},
{"s":"Thyroid","yr":2015,"Males":0.31,"Females":0.36,"tM":0.32,"tF":0.36},
{"s":"Unknown primary","yr":1995,"Males":11.0,"Females":7.5,"tM":10.9,"tF":7.5},
{"s":"Unknown primary","yr":1998,"Males":10.4,"Females":7.5,"tM":10.4,"tF":7.3},
{"s":"Unknown primary","yr":2001,"Males":8.4,"Females":6.3,"tM":8.4,"tF":6.6},
{"s":"Unknown primary","yr":2004,"Males":10.1,"Females":6.5,"tM":9.9,"tF":6.5},
{"s":"Unknown primary","yr":2005,"tM":10.2},
{"s":"Unknown primary","yr":2007,"Males":9.2,"Females":6.3,"tM":9.2,"tF":6.3},
{"s":"Unknown primary","yr":2010,"Males":7.6,"Females":5.1,"tM":7.7,"tF":5.2},
{"s":"Unknown primary","yr":2013,"Males":6.0,"Females":4.3,"tM":6.3,"tF":4.5},
{"s":"Unknown primary","yr":2015,"Males":5.8,"Females":4.0,"tM":5.7,"tF":4.0},
{"s":"Other cancers","yr":1995,"Males":13.3,"Females":7.3,"tM":13.3,"tF":7.3},
{"s":"Other cancers","yr":1998,"Males":14.6,"Females":7.3,"tM":14.4,"tF":7.35},
{"s":"Other cancers","yr":2001,"Males":14.0,"Females":7.4,"tM":14.1,"tF":7.35},
{"s":"Other cancers","yr":2004,"Males":12.9,"Females":6.9,"tM":12.7,"tF":7.2},
{"s":"Other cancers","yr":2007,"Males":12.3,"Females":7.5,"tM":12.4,"tF":7.3},
{"s":"Other cancers","yr":2010,"Males":12.3,"Females":7.2,"tM":12.4,"tF":7.2},
{"s":"Other cancers","yr":2013,"Males":12.3,"Females":7.1,"tM":12.3,"tF":7.15},
{"s":"Other cancers","yr":2015,"Males":12.3,"Females":7.1,"tM":12.2,"tF":7.1},
{"s":"All cancers aged 0-14 years","yr":1995,"Males":4.6,"Females":3.1,"tM":4.6,"tF":3.1},
{"s":"All cancers aged 0-14 years","yr":1998,"Males":4.1,"Females":2.9,"tM":4.0,"tF":2.9},
{"s":"All cancers aged 0-14 years","yr":2001,"Males":3.3,"Females":2.6,"tM":3.4,"tF":2.65},
{"s":"All cancers aged 0-14 years","yr":2004,"Males":2.9,"Females":2.4,"tM":2.9,"tF":2.4},
{"s":"All cancers aged 0-14 years","yr":2007,"Males":2.4,"Females":2.05,"tM":2.45,"tF":2.2},
{"s":"All cancers aged 0-14 years","yr":2010,"Males":2.5,"Females":2.0,"tM":2.35,"tF":2.05},
{"s":"All cancers aged 0-14 years","yr":2013,"Males":2.2,"Females":1.95,"tM":2.3,"tF":1.9},
{"s":"All cancers aged 0-14 years","yr":2015,"Males":2.35,"Females":1.65,"tM":2.3,"tF":1.75}
]
},
"spacing": 53,
"resolve": {"scale": {"fill": "independent", "shape": "independent", "stroke": "independent", "strokeDash": "independent"}, "legend": {"fill": "independent", "shape": "independent", "stroke": "independent", "strokeDash": "independent"}},
"vconcat": [
{
"data": {"name": "a"},
"title": {"text": "a", "anchor": "start", "fontSize": 48, "offset": -50},
"vconcat": [
{
"title": {"text": "Age-standardised rate per 100000", "orient": "left", "anchor": "middle", "fontSize": 29, "fontWeight": "normal", "offset": 12, "dx": 22},
"columns": 5, "bounds": "flush", "spacing": {"row": 72, "column": 52},
"resolve": {"scale": {"y": "independent"}},
"concat": [
{"title":"All cancers","transform":[{"filter":"datum.s==='All cancers'"}],"width":238,"height":154,"encoding":{"x":{"field":"yr","type":"quantitative","scale":{"domain":[1992.6,2017.4]},"axis":{"values":[1995,2005,2015],"title":null,"format":"d"}},"y":{"field":"v","type":"quantitative","scale":{"domain":[-100,518]},"axis":{"values":[0,100,200,300,400],"title":null}}},"layer":[{"transform":[{"fold":["Males","Females"],"as":["k","v"]},{"filter":"isValid(datum.v)"}],"mark":"point","encoding":{"fill":{"field":"k","type":"nominal","scale":{"domain":["Males","Females"],"range":["blue","red"]},"legend":{"title":"Observed:","orient":"none","legendX":-25,"legendY":1154,"symbolSize":200}},"shape":{"field":"k","type":"nominal","scale":{"domain":["Males","Females"],"range":["triangle-up","M0,-1L0.85,0L0,1L-0.85,0Z"]},"legend":{"title":"Observed:","orient":"none","legendX":-25,"legendY":1154,"symbolSize":200}}}},{"transform":[{"fold":["tM","tF"],"as":["k","v"]},{"filter":"isValid(datum.v)"}],"mark":"line","encoding":{"stroke":{"field":"k","type":"nominal","scale":{"domain":["tM","tF"],"range":["blue","red"]},"legend":{"title":"Trends by Joinpoint:","orient":"none","legendX":538,"legendY":1154,"labelExpr":"datum.label=='tM'?'Males':'Females'","symbolType":"M-5.3,0H5.3","symbolSize":400,"symbolStrokeWidth":2.8,"symbolOffset":43,"labelOffset":49}},"strokeDash":{"field":"k","type":"nominal","scale":{"domain":["tM","tF"],"range":[[1,0],[8,5]]},"legend":{"title":"Trends by Joinpoint:","orient":"none","legendX":538,"legendY":1154,"labelExpr":"datum.label=='tM'?'Males':'Females'","symbolType":"M-5.3,0H5.3","symbolSize":400,"symbolStrokeWidth":2.8,"symbolOffset":43,"labelOffset":49}}}}]},
{"title":"Bladder","transform":[{"filter":"datum.s==='Bladder'"}],"width":238,"height":154,"encoding":{"x":{"field":"yr","type":"quantitative","scale":{"domain":[1992.6,2017.4]},"axis":{"values":[1995,2005,2015],"title":null,"format":"d"}},"y":{"field":"v","type":"quantitative","scale":{"domain":[-3.43,17.7]},"axis":{"values":[0,5,10,15],"title":null}}},"layer":[{"transform":[{"fold":["Males","Females"],"as":["k","v"]},{"filter":"isValid(datum.v)"}],"mark":"point","encoding":{"fill":{"field":"k","type":"nominal","scale":{"domain":["Males","Females"],"range":["blue","red"]}},"shape":{"field":"k","type":"nominal","scale":{"domain":["Males","Females"],"range":["triangle-up","M0,-1L0.85,0L0,1L-0.85,0Z"]}}}},{"transform":[{"fold":["tM","tF"],"as":["k","v"]},{"filter":"isValid(datum.v)"}],"mark":"line","encoding":{"stroke":{"field":"k","type":"nominal","scale":{"domain":["tM","tF"],"range":["blue","red"]}},"strokeDash":{"field":"k","type":"nominal","scale":{"domain":["tM","tF"],"range":[[1,0],[8,5]]}}}}]},
{"title":"Brain","transform":[{"filter":"datum.s==='Brain'"}],"width":238,"height":154,"encoding":{"x":{"field":"yr","type":"quantitative","scale":{"domain":[1992.6,2017.4]},"axis":{"values":[1995,2005,2015],"title":null,"format":"d"}},"y":{"field":"v","type":"quantitative","scale":{"domain":[-2.31,11.9]},"axis":{"values":[0,5,10],"title":null}}},"layer":[{"transform":[{"fold":["Males","Females"],"as":["k","v"]},{"filter":"isValid(datum.v)"}],"mark":"point","encoding":{"fill":{"field":"k","type":"nominal","scale":{"domain":["Males","Females"],"range":["blue","red"]}},"shape":{"field":"k","type":"nominal","scale":{"domain":["Males","Females"],"range":["triangle-up","M0,-1L0.85,0L0,1L-0.85,0Z"]}}}},{"transform":[{"fold":["tM","tF"],"as":["k","v"]},{"filter":"isValid(datum.v)"}],"mark":"line","encoding":{"stroke":{"field":"k","type":"nominal","scale":{"domain":["tM","tF"],"range":["blue","red"]}},"strokeDash":{"field":"k","type":"nominal","scale":{"domain":["tM","tF"],"range":[[1,0],[8,5]]}}}}]},
{"title":"Breast","transform":[{"filter":"datum.s==='Breast'"}],"width":238,"height":154,"encoding":{"x":{"field":"yr","type":"quantitative","scale":{"domain":[1992.6,2017.4]},"axis":{"values":[1995,2005,2015],"title":null,"format":"d"}},"y":{"field":"v","type":"quantitative","scale":{"domain":[-34.7,179]},"axis":{"values":[0,50,100,150],"title":null}}},"layer":[{"transform":[{"fold":["Males","Females"],"as":["k","v"]},{"filter":"isValid(datum.v)"}],"mark":"point","encoding":{"fill":{"field":"k","type":"nominal","scale":{"domain":["Males","Females"],"range":["blue","red"]}},"shape":{"field":"k","type":"nominal","scale":{"domain":["Males","Females"],"range":["triangle-up","M0,-1L0.85,0L0,1L-0.85,0Z"]}}}},{"transform":[{"fold":["tM","tF"],"as":["k","v"]},{"filter":"isValid(datum.v)"}],"mark":"line","encoding":{"stroke":{"field":"k","type":"nominal","scale":{"domain":["tM","tF"],"range":["blue","red"]}},"strokeDash":{"field":"k","type":"nominal","scale":{"domain":["tM","tF"],"range":[[1,0],[8,5]]}}}}]},
{"title":"Cervix","transform":[{"filter":"datum.s==='Cervix'"}],"width":238,"height":154,"encoding":{"x":{"field":"yr","type":"quantitative","scale":{"domain":[1992.6,2017.4]},"axis":{"values":[1995,2005,2015],"title":null,"format":"d"}},"y":{"field":"v","type":"quantitative","scale":{"domain":[-3.47,17.9]},"axis":{"values":[0,5,10,15],"title":null}}},"layer":[{"transform":[{"fold":["Males","Females"],"as":["k","v"]},{"filter":"isValid(datum.v)"}],"mark":"point","encoding":{"fill":{"field":"k","type":"nominal","scale":{"domain":["Males","Females"],"range":["blue","red"]}},"shape":{"field":"k","type":"nominal","scale":{"domain":["Males","Females"],"range":["triangle-up","M0,-1L0.85,0L0,1L-0.85,0Z"]}}}},{"transform":[{"fold":["tM","tF"],"as":["k","v"]},{"filter":"isValid(datum.v)"}],"mark":"line","encoding":{"stroke":{"field":"k","type":"nominal","scale":{"domain":["tM","tF"],"range":["blue","red"]}},"strokeDash":{"field":"k","type":"nominal","scale":{"domain":["tM","tF"],"range":[[1,0],[8,5]]}}}}]},
{"title":"Colon and rectum","transform":[{"filter":"datum.s==='Colon and rectum'"}],"width":238,"height":154,"encoding":{"x":{"field":"yr","type":"quantitative","scale":{"domain":[1992.6,2017.4]},"axis":{"values":[1995,2005,2015],"title":null,"format":"d"}},"y":{"field":"v","type":"quantitative","scale":{"domain":[-15.9,81.8]},"axis":{"values":[0,20,40,60],"title":null}}},"layer":[{"transform":[{"fold":["Males","Females"],"as":["k","v"]},{"filter":"isValid(datum.v)"}],"mark":"point","encoding":{"fill":{"field":"k","type":"nominal","scale":{"domain":["Males","Females"],"range":["blue","red"]}},"shape":{"field":"k","type":"nominal","scale":{"domain":["Males","Females"],"range":["triangle-up","M0,-1L0.85,0L0,1L-0.85,0Z"]}}}},{"transform":[{"fold":["tM","tF"],"as":["k","v"]},{"filter":"isValid(datum.v)"}],"mark":"line","encoding":{"stroke":{"field":"k","type":"nominal","scale":{"domain":["tM","tF"],"range":["blue","red"]}},"strokeDash":{"field":"k","type":"nominal","scale":{"domain":["tM","tF"],"range":[[1,0],[8,5]]}}}}]},
{"title":"Corpus uteri and uterus","transform":[{"filter":"datum.s==='Corpus uteri and uterus'"}],"width":238,"height":154,"encoding":{"x":{"field":"yr","type":"quantitative","scale":{"domain":[1992.6,2017.4]},"axis":{"values":[1995,2005,2015],"title":null,"format":"d"}},"y":{"field":"v","type":"quantitative","scale":{"domain":[-4.71,24.3]},"axis":{"values":[0,5,10,15,20],"title":null}}},"layer":[{"transform":[{"fold":["Males","Females"],"as":["k","v"]},{"filter":"isValid(datum.v)"}],"mark":"point","encoding":{"fill":{"field":"k","type":"nominal","scale":{"domain":["Males","Females"],"range":["blue","red"]}},"shape":{"field":"k","type":"nominal","scale":{"domain":["Males","Females"],"range":["triangle-up","M0,-1L0.85,0L0,1L-0.85,0Z"]}}}},{"transform":[{"fold":["tM","tF"],"as":["k","v"]},{"filter":"isValid(datum.v)"}],"mark":"line","encoding":{"stroke":{"field":"k","type":"nominal","scale":{"domain":["tM","tF"],"range":["blue","red"]}},"strokeDash":{"field":"k","type":"nominal","scale":{"domain":["tM","tF"],"range":[[1,0],[8,5]]}}}}]},
{"title":"Gallbladder and bile duct","transform":[{"filter":"datum.s==='Gallbladder and bile duct'"}],"width":238,"height":154,"encoding":{"x":{"field":"yr","type":"quantitative","scale":{"domain":[1992.6,2017.4]},"axis":{"values":[1995,2005,2015],"title":null,"format":"d"}},"y":{"field":"v","type":"quantitative","scale":{"domain":[-0.7,3.62]},"axis":{"values":[0,1,2,3],"title":null}}},"layer":[{"transform":[{"fold":["Males","Females"],"as":["k","v"]},{"filter":"isValid(datum.v)"}],"mark":"point","encoding":{"fill":{"field":"k","type":"nominal","scale":{"domain":["Males","Females"],"range":["blue","red"]}},"shape":{"field":"k","type":"nominal","scale":{"domain":["Males","Females"],"range":["triangle-up","M0,-1L0.85,0L0,1L-0.85,0Z"]}}}},{"transform":[{"fold":["tM","tF"],"as":["k","v"]},{"filter":"isValid(datum.v)"}],"mark":"line","encoding":{"stroke":{"field":"k","type":"nominal","scale":{"domain":["tM","tF"],"range":["blue","red"]}},"strokeDash":{"field":"k","type":"nominal","scale":{"domain":["tM","tF"],"range":[[1,0],[8,5]]}}}}]},
{"title":"Head and neck","transform":[{"filter":"datum.s==='Head and neck'"}],"width":238,"height":154,"encoding":{"x":{"field":"yr","type":"quantitative","scale":{"domain":[1992.6,2017.4]},"axis":{"values":[1995,2005,2015],"title":null,"format":"d"}},"y":{"field":"v","type":"quantitative","scale":{"domain":[-7.1,36.6]},"axis":{"values":[0,10,20,30],"title":null}}},"layer":[{"transform":[{"fold":["Males","Females"],"as":["k","v"]},{"filter":"isValid(datum.v)"}],"mark":"point","encoding":{"fill":{"field":"k","type":"nominal","scale":{"domain":["Males","Females"],"range":["blue","red"]}},"shape":{"field":"k","type":"nominal","scale":{"domain":["Males","Females"],"range":["triangle-up","M0,-1L0.85,0L0,1L-0.85,0Z"]}}}},{"transform":[{"fold":["tM","tF"],"as":["k","v"]},{"filter":"isValid(datum.v)"}],"mark":"line","encoding":{"stroke":{"field":"k","type":"nominal","scale":{"domain":["tM","tF"],"range":["blue","red"]}},"strokeDash":{"field":"k","type":"nominal","scale":{"domain":["tM","tF"],"range":[[1,0],[8,5]]}}}}]},
{"title":"Kidney","transform":[{"filter":"datum.s==='Kidney'"}],"width":238,"height":154,"encoding":{"x":{"field":"yr","type":"quantitative","scale":{"domain":[1992.6,2017.4]},"axis":{"values":[1995,2005,2015],"title":null,"format":"d"}},"y":{"field":"v","type":"quantitative","scale":{"domain":[-4.68,24.1]},"axis":{"values":[0,5,10,15,20],"title":null}}},"layer":[{"transform":[{"fold":["Males","Females"],"as":["k","v"]},{"filter":"isValid(datum.v)"}],"mark":"point","encoding":{"fill":{"field":"k","type":"nominal","scale":{"domain":["Males","Females"],"range":["blue","red"]}},"shape":{"field":"k","type":"nominal","scale":{"domain":["Males","Females"],"range":["triangle-up","M0,-1L0.85,0L0,1L-0.85,0Z"]}}}},{"transform":[{"fold":["tM","tF"],"as":["k","v"]},{"filter":"isValid(datum.v)"}],"mark":"line","encoding":{"stroke":{"field":"k","type":"nominal","scale":{"domain":["tM","tF"],"range":["blue","red"]}},"strokeDash":{"field":"k","type":"nominal","scale":{"domain":["tM","tF"],"range":[[1,0],[8,5]]}}}}]},
{"title":"Leukaemia","transform":[{"filter":"datum.s==='Leukaemia'"}],"width":238,"height":154,"encoding":{"x":{"field":"yr","type":"quantitative","scale":{"domain":[1992.6,2017.4]},"axis":{"values":[1995,2005,2015],"title":null,"format":"d"}},"y":{"field":"v","type":"quantitative","scale":{"domain":[-3.53,18.2]},"axis":{"values":[0,5,10,15],"title":null}}},"layer":[{"transform":[{"fold":["Males","Females"],"as":["k","v"]},{"filter":"isValid(datum.v)"}],"mark":"point","encoding":{"fill":{"field":"k","type":"nominal","scale":{"domain":["Males","Females"],"range":["blue","red"]}},"shape":{"field":"k","type":"nominal","scale":{"domain":["Males","Females"],"range":["triangle-up","M0,-1L0.85,0L0,1L-0.85,0Z"]}}}},{"transform":[{"fold":["tM","tF"],"as":["k","v"]},{"filter":"isValid(datum.v)"}],"mark":"line","encoding":{"stroke":{"field":"k","type":"nominal","scale":{"domain":["tM","tF"],"range":["blue","red"]}},"strokeDash":{"field":"k","type":"nominal","scale":{"domain":["tM","tF"],"range":[[1,0],[8,5]]}}}}]},
{"title":"Liver","transform":[{"filter":"datum.s==='Liver'"}],"width":238,"height":154,"encoding":{"x":{"field":"yr","type":"quantitative","scale":{"domain":[1992.6,2017.4]},"axis":{"values":[1995,2005,2015],"title":null,"format":"d"}},"y":{"field":"v","type":"quantitative","scale":{"domain":[-3.53,18.2]},"axis":{"values":[0,5,10,15],"title":null}}},"layer":[{"transform":[{"fold":["Males","Females"],"as":["k","v"]},{"filter":"isValid(datum.v)"}],"mark":"point","encoding":{"fill":{"field":"k","type":"nominal","scale":{"domain":["Males","Females"],"range":["blue","red"]}},"shape":{"field":"k","type":"nominal","scale":{"domain":["Males","Females"],"range":["triangle-up","M0,-1L0.85,0L0,1L-0.85,0Z"]}}}},{"transform":[{"fold":["tM","tF"],"as":["k","v"]},{"filter":"isValid(datum.v)"}],"mark":"line","encoding":{"stroke":{"field":"k","type":"nominal","scale":{"domain":["tM","tF"],"range":["blue","red"]}},"strokeDash":{"field":"k","type":"nominal","scale":{"domain":["tM","tF"],"range":[[1,0],[8,5]]}}}}]},
{"title":"Lung","transform":[{"filter":"datum.s==='Lung'"}],"width":238,"height":154,"encoding":{"x":{"field":"yr","type":"quantitative","scale":{"domain":[1992.6,2017.4]},"axis":{"values":[1995,2005,2015],"title":null,"format":"d"}},"y":{"field":"v","type":"quantitative","scale":{"domain":[-14.4,74]},"axis":{"values":[0,20,40,60],"title":null}}},"layer":[{"transform":[{"fold":["Males","Females"],"as":["k","v"]},{"filter":"isValid(datum.v)"}],"mark":"point","encoding":{"fill":{"field":"k","type":"nominal","scale":{"domain":["Males","Females"],"range":["blue","red"]}},"shape":{"field":"k","type":"nominal","scale":{"domain":["Males","Females"],"range":["triangle-up","M0,-1L0.85,0L0,1L-0.85,0Z"]}}}},{"transform":[{"fold":["tM","tF"],"as":["k","v"]},{"filter":"isValid(datum.v)"}],"mark":"line","encoding":{"stroke":{"field":"k","type":"nominal","scale":{"domain":["tM","tF"],"range":["blue","red"]}},"strokeDash":{"field":"k","type":"nominal","scale":{"domain":["tM","tF"],"range":[[1,0],[8,5]]}}}}]},
{"title":"Melanoma","transform":[{"filter":"datum.s==='Melanoma'"}],"width":238,"height":154,"encoding":{"x":{"field":"yr","type":"quantitative","scale":{"domain":[1992.6,2017.4]},"axis":{"values":[1995,2005,2015],"title":null,"format":"d"}},"y":{"field":"v","type":"quantitative","scale":{"domain":[-14,72.4]},"axis":{"values":[0,20,40,60],"title":null}}},"layer":[{"transform":[{"fold":["Males","Females"],"as":["k","v"]},{"filter":"isValid(datum.v)"}],"mark":"point","encoding":{"fill":{"field":"k","type":"nominal","scale":{"domain":["Males","Females"],"range":["blue","red"]}},"shape":{"field":"k","type":"nominal","scale":{"domain":["Males","Females"],"range":["triangle-up","M0,-1L0.85,0L0,1L-0.85,0Z"]}}}},{"transform":[{"fold":["tM","tF"],"as":["k","v"]},{"filter":"isValid(datum.v)"}],"mark":"line","encoding":{"stroke":{"field":"k","type":"nominal","scale":{"domain":["tM","tF"],"range":["blue","red"]}},"strokeDash":{"field":"k","type":"nominal","scale":{"domain":["tM","tF"],"range":[[1,0],[8,5]]}}}}]},
{"title":"Non-Hodgkin lymphoma","transform":[{"filter":"datum.s==='Non-Hodgkin lymphoma'"}],"width":238,"height":154,"encoding":{"x":{"field":"yr","type":"quantitative","scale":{"domain":[1992.6,2017.4]},"axis":{"values":[1995,2005,2015],"title":null,"format":"d"}},"y":{"field":"v","type":"quantitative","scale":{"domain":[-4.97,25.6]},"axis":{"values":[0,5,10,15,20],"title":null}}},"layer":[{"transform":[{"fold":["Males","Females"],"as":["k","v"]},{"filter":"isValid(datum.v)"}],"mark":"point","encoding":{"fill":{"field":"k","type":"nominal","scale":{"domain":["Males","Females"],"range":["blue","red"]}},"shape":{"field":"k","type":"nominal","scale":{"domain":["Males","Females"],"range":["triangle-up","M0,-1L0.85,0L0,1L-0.85,0Z"]}}}},{"transform":[{"fold":["tM","tF"],"as":["k","v"]},{"filter":"isValid(datum.v)"}],"mark":"line","encoding":{"stroke":{"field":"k","type":"nominal","scale":{"domain":["tM","tF"],"range":["blue","red"]}},"strokeDash":{"field":"k","type":"nominal","scale":{"domain":["tM","tF"],"range":[[1,0],[8,5]]}}}}]},
{"title":"Oesophagus","transform":[{"filter":"datum.s==='Oesophagus'"}],"width":238,"height":154,"encoding":{"x":{"field":"yr","type":"quantitative","scale":{"domain":[1992.6,2017.4]},"axis":{"values":[1995,2005,2015],"title":null,"format":"d"}},"y":{"field":"v","type":"quantitative","scale":{"domain":[-1.88,9.7]},"axis":{"values":[0,2,4,6,8],"title":null}}},"layer":[{"transform":[{"fold":["Males","Females"],"as":["k","v"]},{"filter":"isValid(datum.v)"}],"mark":"point","encoding":{"fill":{"field":"k","type":"nominal","scale":{"domain":["Males","Females"],"range":["blue","red"]}},"shape":{"field":"k","type":"nominal","scale":{"domain":["Males","Females"],"range":["triangle-up","M0,-1L0.85,0L0,1L-0.85,0Z"]}}}},{"transform":[{"fold":["tM","tF"],"as":["k","v"]},{"filter":"isValid(datum.v)"}],"mark":"line","encoding":{"stroke":{"field":"k","type":"nominal","scale":{"domain":["tM","tF"],"range":["blue","red"]}},"strokeDash":{"field":"k","type":"nominal","scale":{"domain":["tM","tF"],"range":[[1,0],[8,5]]}}}}]},
{"title":"Ovary","transform":[{"filter":"datum.s==='Ovary'"}],"width":238,"height":154,"encoding":{"x":{"field":"yr","type":"quantitative","scale":{"domain":[1992.6,2017.4]},"axis":{"values":[1995,2005,2015],"title":null,"format":"d"}},"y":{"field":"v","type":"quantitative","scale":{"domain":[-3.51,18.1]},"axis":{"values":[0,5,10,15],"title":null}}},"layer":[{"transform":[{"fold":["Males","Females"],"as":["k","v"]},{"filter":"isValid(datum.v)"}],"mark":"point","encoding":{"fill":{"field":"k","type":"nominal","scale":{"domain":["Males","Females"],"range":["blue","red"]}},"shape":{"field":"k","type":"nominal","scale":{"domain":["Males","Females"],"range":["triangle-up","M0,-1L0.85,0L0,1L-0.85,0Z"]}}}},{"transform":[{"fold":["tM","tF"],"as":["k","v"]},{"filter":"isValid(datum.v)"}],"mark":"line","encoding":{"stroke":{"field":"k","type":"nominal","scale":{"domain":["tM","tF"],"range":["blue","red"]}},"strokeDash":{"field":"k","type":"nominal","scale":{"domain":["tM","tF"],"range":[[1,0],[8,5]]}}}}]},
{"title":"Pancreas","transform":[{"filter":"datum.s==='Pancreas'"}],"width":238,"height":154,"encoding":{"x":{"field":"yr","type":"quantitative","scale":{"domain":[1992.6,2017.4]},"axis":{"values":[1995,2005,2015],"title":null,"format":"d"}},"y":{"field":"v","type":"quantitative","scale":{"domain":[-2.51,12.95]},"axis":{"values":[0,5,10],"title":null}}},"layer":[{"transform":[{"fold":["Males","Females"],"as":["k","v"]},{"filter":"isValid(datum.v)"}],"mark":"point","encoding":{"fill":{"field":"k","type":"nominal","scale":{"domain":["Males","Females"],"range":["blue","red"]}},"shape":{"field":"k","type":"nominal","scale":{"domain":["Males","Females"],"range":["triangle-up","M0,-1L0.85,0L0,1L-0.85,0Z"]}}}},{"transform":[{"fold":["tM","tF"],"as":["k","v"]},{"filter":"isValid(datum.v)"}],"mark":"line","encoding":{"stroke":{"field":"k","type":"nominal","scale":{"domain":["tM","tF"],"range":["blue","red"]}},"strokeDash":{"field":"k","type":"nominal","scale":{"domain":["tM","tF"],"range":[[1,0],[8,5]]}}}}]},
{"title":"Prostate","transform":[{"filter":"datum.s==='Prostate'"}],"width":238,"height":154,"encoding":{"x":{"field":"yr","type":"quantitative","scale":{"domain":[1992.6,2017.4]},"axis":{"values":[1995,2005,2015],"title":null,"format":"d"}},"y":{"field":"v","type":"quantitative","scale":{"domain":[-47.1,243]},"axis":{"values":[0,50,100,150,200],"title":null}}},"layer":[{"transform":[{"fold":["Males","Females"],"as":["k","v"]},{"filter":"isValid(datum.v)"}],"mark":"point","encoding":{"fill":{"field":"k","type":"nominal","scale":{"domain":["Males","Females"],"range":["blue","red"]}},"shape":{"field":"k","type":"nominal","scale":{"domain":["Males","Females"],"range":["triangle-up","M0,-1L0.85,0L0,1L-0.85,0Z"]}}}},{"transform":[{"fold":["tM","tF"],"as":["k","v"]},{"filter":"isValid(datum.v)"}],"mark":"line","encoding":{"stroke":{"field":"k","type":"nominal","scale":{"domain":["tM","tF"],"range":["blue","red"]}},"strokeDash":{"field":"k","type":"nominal","scale":{"domain":["tM","tF"],"range":[[1,0],[8,5]]}}}}]},
{"title":"Stomach","transform":[{"filter":"datum.s==='Stomach'"}],"width":238,"height":154,"encoding":{"x":{"field":"yr","type":"quantitative","scale":{"domain":[1992.6,2017.4]},"axis":{"values":[1995,2005,2015],"title":null,"format":"d"}},"y":{"field":"v","type":"quantitative","scale":{"domain":[-3.53,18.2]},"axis":{"values":[0,5,10,15],"title":null}}},"layer":[{"transform":[{"fold":["Males","Females"],"as":["k","v"]},{"filter":"isValid(datum.v)"}],"mark":"point","encoding":{"fill":{"field":"k","type":"nominal","scale":{"domain":["Males","Females"],"range":["blue","red"]}},"shape":{"field":"k","type":"nominal","scale":{"domain":["Males","Females"],"range":["triangle-up","M0,-1L0.85,0L0,1L-0.85,0Z"]}}}},{"transform":[{"fold":["tM","tF"],"as":["k","v"]},{"filter":"isValid(datum.v)"}],"mark":"line","encoding":{"stroke":{"field":"k","type":"nominal","scale":{"domain":["tM","tF"],"range":["blue","red"]}},"strokeDash":{"field":"k","type":"nominal","scale":{"domain":["tM","tF"],"range":[[1,0],[8,5]]}}}}]},
{"title":"Testis","transform":[{"filter":"datum.s==='Testis'"}],"width":238,"height":154,"encoding":{"x":{"field":"yr","type":"quantitative","scale":{"domain":[1992.6,2017.4]},"axis":{"values":[1995,2005,2015],"title":null,"format":"d"}},"y":{"field":"v","type":"quantitative","scale":{"domain":[-2.35,12.1]},"axis":{"values":[0,5,10],"title":null}}},"layer":[{"transform":[{"fold":["Males","Females"],"as":["k","v"]},{"filter":"isValid(datum.v)"}],"mark":"point","encoding":{"fill":{"field":"k","type":"nominal","scale":{"domain":["Males","Females"],"range":["blue","red"]}},"shape":{"field":"k","type":"nominal","scale":{"domain":["Males","Females"],"range":["triangle-up","M0,-1L0.85,0L0,1L-0.85,0Z"]}}}},{"transform":[{"fold":["tM","tF"],"as":["k","v"]},{"filter":"isValid(datum.v)"}],"mark":"line","encoding":{"stroke":{"field":"k","type":"nominal","scale":{"domain":["tM","tF"],"range":["blue","red"]}},"strokeDash":{"field":"k","type":"nominal","scale":{"domain":["tM","tF"],"range":[[1,0],[8,5]]}}}}]},
{"title":"Thyroid","transform":[{"filter":"datum.s==='Thyroid'"}],"width":238,"height":154,"encoding":{"x":{"field":"yr","type":"quantitative","scale":{"domain":[1992.6,2017.4]},"axis":{"values":[1995,2005,2015],"title":null,"format":"d"}},"y":{"field":"v","type":"quantitative","scale":{"domain":[-5.1,26.3]},"axis":{"values":[0,5,10,15,20],"title":null}}},"layer":[{"transform":[{"fold":["Males","Females"],"as":["k","v"]},{"filter":"isValid(datum.v)"}],"mark":"point","encoding":{"fill":{"field":"k","type":"nominal","scale":{"domain":["Males","Females"],"range":["blue","red"]}},"shape":{"field":"k","type":"nominal","scale":{"domain":["Males","Females"],"range":["triangle-up","M0,-1L0.85,0L0,1L-0.85,0Z"]}}}},{"transform":[{"fold":["tM","tF"],"as":["k","v"]},{"filter":"isValid(datum.v)"}],"mark":"line","encoding":{"stroke":{"field":"k","type":"nominal","scale":{"domain":["tM","tF"],"range":["blue","red"]}},"strokeDash":{"field":"k","type":"nominal","scale":{"domain":["tM","tF"],"range":[[1,0],[8,5]]}}}}]},
{"title":"Unknown primary","transform":[{"filter":"datum.s==='Unknown primary'"}],"width":238,"height":154,"encoding":{"x":{"field":"yr","type":"quantitative","scale":{"domain":[1992.6,2017.4]},"axis":{"values":[1995,2005,2015],"title":"Year","titleFontSize":31,"titlePadding":10,"titleX":95,"format":"d"}},"y":{"field":"v","type":"quantitative","scale":{"domain":[-3.59,18.5]},"axis":{"values":[0,5,10,15],"title":null}}},"layer":[{"transform":[{"fold":["Males","Females"],"as":["k","v"]},{"filter":"isValid(datum.v)"}],"mark":"point","encoding":{"fill":{"field":"k","type":"nominal","scale":{"domain":["Males","Females"],"range":["blue","red"]}},"shape":{"field":"k","type":"nominal","scale":{"domain":["Males","Females"],"range":["triangle-up","M0,-1L0.85,0L0,1L-0.85,0Z"]}}}},{"transform":[{"fold":["tM","tF"],"as":["k","v"]},{"filter":"isValid(datum.v)"}],"mark":"line","encoding":{"stroke":{"field":"k","type":"nominal","scale":{"domain":["tM","tF"],"range":["blue","red"]}},"strokeDash":{"field":"k","type":"nominal","scale":{"domain":["tM","tF"],"range":[[1,0],[8,5]]}}}}]},
{"title":"Other cancers","transform":[{"filter":"datum.s==='Other cancers'"}],"width":238,"height":154,"encoding":{"x":{"field":"yr","type":"quantitative","scale":{"domain":[1992.6,2017.4]},"axis":{"values":[1995,2005,2015],"title":null,"format":"d"}},"y":{"field":"v","type":"quantitative","scale":{"domain":[-9.87,50.9]},"axis":{"values":[0,10,20,30,40],"title":null}}},"layer":[{"transform":[{"fold":["Males","Females"],"as":["k","v"]},{"filter":"isValid(datum.v)"}],"mark":"point","encoding":{"fill":{"field":"k","type":"nominal","scale":{"domain":["Males","Females"],"range":["blue","red"]}},"shape":{"field":"k","type":"nominal","scale":{"domain":["Males","Females"],"range":["triangle-up","M0,-1L0.85,0L0,1L-0.85,0Z"]}}}},{"transform":[{"fold":["tM","tF"],"as":["k","v"]},{"filter":"isValid(datum.v)"}],"mark":"line","encoding":{"stroke":{"field":"k","type":"nominal","scale":{"domain":["tM","tF"],"range":["blue","red"]}},"strokeDash":{"field":"k","type":"nominal","scale":{"domain":["tM","tF"],"range":[[1,0],[8,5]]}}}}]},
{"title":"All cancers aged 0-14 years","transform":[{"filter":"datum.s==='All cancers aged 0-14 years'"}],"width":238,"height":154,"encoding":{"x":{"field":"yr","type":"quantitative","scale":{"domain":[1992.6,2017.4]},"axis":{"values":[1995,2005,2015],"title":null,"format":"d"}},"y":{"field":"v","type":"quantitative","scale":{"domain":[-4.66,24]},"axis":{"values":[0,5,10,15,20],"title":null}}},"layer":[{"transform":[{"fold":["Males","Females"],"as":["k","v"]},{"filter":"isValid(datum.v)"}],"mark":"point","encoding":{"fill":{"field":"k","type":"nominal","scale":{"domain":["Males","Females"],"range":["blue","red"]}},"shape":{"field":"k","type":"nominal","scale":{"domain":["Males","Females"],"range":["triangle-up","M0,-1L0.85,0L0,1L-0.85,0Z"]}}}},{"transform":[{"fold":["tM","tF"],"as":["k","v"]},{"filter":"isValid(datum.v)"}],"mark":"line","encoding":{"stroke":{"field":"k","type":"nominal","scale":{"domain":["tM","tF"],"range":["blue","red"]}},"strokeDash":{"field":"k","type":"nominal","scale":{"domain":["tM","tF"],"range":[[1,0],[8,5]]}}}}]}
]
}
]
},
{
"data": {"name": "b"},
"title": {"text": "b", "anchor": "start", "fontSize": 48, "offset": -50},
"vconcat": [
{
"title": {"text": "Age-standardised rate per 100000", "orient": "left", "anchor": "middle", "fontSize": 29, "fontWeight": "normal", "offset": 12, "dx": 22},
"columns": 5, "bounds": "flush", "spacing": {"row": 73, "column": 52},
"resolve": {"scale": {"y": "independent"}},
"concat": [
{"title":"All cancers","transform":[{"filter":"datum.s==='All cancers'"}],"width":238,"height":154,"encoding":{"x":{"field":"yr","type":"quantitative","scale":{"domain":[1992.6,2017.4]},"axis":{"values":[1995,2005,2015],"title":null,"format":"d"}},"y":{"field":"v","type":"quantitative","scale":{"domain":[-34.9,180]},"axis":{"values":[0,50,100,150],"title":null}}},"layer":[{"transform":[{"fold":["Males","Females"],"as":["k","v"]},{"filter":"isValid(datum.v)"}],"mark":"point","encoding":{"fill":{"field":"k","type":"nominal","scale":{"domain":["Males","Females"],"range":["blue","red"]},"legend":{"title":"Observed:","orient":"none","legendX":-25,"legendY":1160,"symbolSize":200}},"shape":{"field":"k","type":"nominal","scale":{"domain":["Males","Females"],"range":["triangle-up","M0,-1L0.85,0L0,1L-0.85,0Z"]},"legend":{"title":"Observed:","orient":"none","legendX":-25,"legendY":1160,"symbolSize":200}}}},{"transform":[{"fold":["tM","tF"],"as":["k","v"]},{"filter":"isValid(datum.v)"}],"mark":"line","encoding":{"stroke":{"field":"k","type":"nominal","scale":{"domain":["tM","tF"],"range":["blue","red"]},"legend":{"title":"Trends by Joinpoint:","orient":"none","legendX":538,"legendY":1160,"labelExpr":"datum.label=='tM'?'Males':'Females'","symbolType":"M-5.3,0H5.3","symbolSize":400,"symbolStrokeWidth":2.8,"symbolOffset":43,"labelOffset":49}},"strokeDash":{"field":"k","type":"nominal","scale":{"domain":["tM","tF"],"range":[[1,0],[8,5]]},"legend":{"title":"Trends by Joinpoint:","orient":"none","legendX":538,"legendY":1160,"labelExpr":"datum.label=='tM'?'Males':'Females'","symbolType":"M-5.3,0H5.3","symbolSize":400,"symbolStrokeWidth":2.8,"symbolOffset":43,"labelOffset":49}}}}]},
{"title":"Bladder","transform":[{"filter":"datum.s==='Bladder'"}],"width":238,"height":154,"encoding":{"x":{"field":"yr","type":"quantitative","scale":{"domain":[1992.6,2017.4]},"axis":{"values":[1995,2005,2015],"title":null,"format":"d"}},"y":{"field":"v","type":"quantitative","scale":{"domain":[-0.94,4.84]},"axis":{"values":[0,1,2,3,4],"title":null}}},"layer":[{"transform":[{"fold":["Males","Females"],"as":["k","v"]},{"filter":"isValid(datum.v)"}],"mark":"point","encoding":{"fill":{"field":"k","type":"nominal","scale":{"domain":["Males","Females"],"range":["blue","red"]}},"shape":{"field":"k","type":"nominal","scale":{"domain":["Males","Females"],"range":["triangle-up","M0,-1L0.85,0L0,1L-0.85,0Z"]}}}},{"transform":[{"fold":["tM","tF"],"as":["k","v"]},{"filter":"isValid(datum.v)"}],"mark":"line","encoding":{"stroke":{"field":"k","type":"nominal","scale":{"domain":["tM","tF"],"range":["blue","red"]}},"strokeDash":{"field":"k","type":"nominal","scale":{"domain":["tM","tF"],"range":[[1,0],[8,5]]}}}}]},
{"title":"Brain","transform":[{"filter":"datum.s==='Brain'"}],"width":238,"height":154,"encoding":{"x":{"field":"yr","type":"quantitative","scale":{"domain":[1992.6,2017.4]},"axis":{"values":[1995,2005,2015],"title":null,"format":"d"}},"y":{"field":"v","type":"quantitative","scale":{"domain":[-1.88,9.7]},"axis":{"values":[0,2,4,6,8],"title":null}}},"layer":[{"transform":[{"fold":["Males","Females"],"as":["k","v"]},{"filter":"isValid(datum.v)"}],"mark":"point","encoding":{"fill":{"field":"k","type":"nominal","scale":{"domain":["Males","Females"],"range":["blue","red"]}},"shape":{"field":"k","type":"nominal","scale":{"domain":["Males","Females"],"range":["triangle-up","M0,-1L0.85,0L0,1L-0.85,0Z"]}}}},{"transform":[{"fold":["tM","tF"],"as":["k","v"]},{"filter":"isValid(datum.v)"}],"mark":"line","encoding":{"stroke":{"field":"k","type":"nominal","scale":{"domain":["tM","tF"],"range":["blue","red"]}},"strokeDash":{"field":"k","type":"nominal","scale":{"domain":["tM","tF"],"range":[[1,0],[8,5]]}}}}]},
{"title":"Breast","transform":[{"filter":"datum.s==='Breast'"}],"width":238,"height":154,"encoding":{"x":{"field":"yr","type":"quantitative","scale":{"domain":[1992.6,2017.4]},"axis":{"values":[1995,2005,2015],"title":null,"format":"d"}},"y":{"field":"v","type":"quantitative","scale":{"domain":[-7.04,36.3]},"axis":{"values":[0,10,20,30],"title":null}}},"layer":[{"transform":[{"fold":["Males","Females"],"as":["k","v"]},{"filter":"isValid(datum.v)"}],"mark":"point","encoding":{"fill":{"field":"k","type":"nominal","scale":{"domain":["Males","Females"],"range":["blue","red"]}},"shape":{"field":"k","type":"nominal","scale":{"domain":["Males","Females"],"range":["triangle-up","M0,-1L0.85,0L0,1L-0.85,0Z"]}}}},{"transform":[{"fold":["tM","tF"],"as":["k","v"]},{"filter":"isValid(datum.v)"}],"mark":"line","encoding":{"stroke":{"field":"k","type":"nominal","scale":{"domain":["tM","tF"],"range":["blue","red"]}},"strokeDash":{"field":"k","type":"nominal","scale":{"domain":["tM","tF"],"range":[[1,0],[8,5]]}}}}]},
{"title":"Cervix","transform":[{"filter":"datum.s==='Cervix'"}],"width":238,"height":154,"encoding":{"x":{"field":"yr","type":"quantitative","scale":{"domain":[1992.6,2017.4]},"axis":{"values":[1995,2005,2015],"title":null,"format":"d"}},"y":{"field":"v","type":"quantitative","scale":{"domain":[-0.94,4.84]},"axis":{"values":[0,1,2,3,4],"title":null}}},"layer":[{"transform":[{"fold":["Males","Females"],"as":["k","v"]},{"filter":"isValid(datum.v)"}],"mark":"point","encoding":{"fill":{"field":"k","type":"nominal","scale":{"domain":["Males","Females"],"range":["blue","red"]}},"shape":{"field":"k","type":"nominal","scale":{"domain":["Males","Females"],"range":["triangle-up","M0,-1L0.85,0L0,1L-0.85,0Z"]}}}},{"transform":[{"fold":["tM","tF"],"as":["k","v"]},{"filter":"isValid(datum.v)"}],"mark":"line","encoding":{"stroke":{"field":"k","type":"nominal","scale":{"domain":["tM","tF"],"range":["blue","red"]}},"strokeDash":{"field":"k","type":"nominal","scale":{"domain":["tM","tF"],"range":[[1,0],[8,5]]}}}}]},
{"title":"Colon and rectum","transform":[{"filter":"datum.s==='Colon and rectum'"}],"width":238,"height":154,"encoding":{"x":{"field":"yr","type":"quantitative","scale":{"domain":[1992.6,2017.4]},"axis":{"values":[1995,2005,2015],"title":null,"format":"d"}},"y":{"field":"v","type":"quantitative","scale":{"domain":[-7.04,36.3]},"axis":{"values":[0,10,20,30],"title":null}}},"layer":[{"transform":[{"fold":["Males","Females"],"as":["k","v"]},{"filter":"isValid(datum.v)"}],"mark":"point","encoding":{"fill":{"field":"k","type":"nominal","scale":{"domain":["Males","Females"],"range":["blue","red"]}},"shape":{"field":"k","type":"nominal","scale":{"domain":["Males","Females"],"range":["triangle-up","M0,-1L0.85,0L0,1L-0.85,0Z"]}}}},{"transform":[{"fold":["tM","tF"],"as":["k","v"]},{"filter":"isValid(datum.v)"}],"mark":"line","encoding":{"stroke":{"field":"k","type":"nominal","scale":{"domain":["tM","tF"],"range":["blue","red"]}},"strokeDash":{"field":"k","type":"nominal","scale":{"domain":["tM","tF"],"range":[[1,0],[8,5]]}}}}]},
{"title":"Corpus uteri and uterus","transform":[{"filter":"datum.s==='Corpus uteri and uterus'"}],"width":238,"height":154,"encoding":{"x":{"field":"yr","type":"quantitative","scale":{"domain":[1992.6,2017.4]},"axis":{"values":[1995,2005,2015],"title":null,"format":"d"}},"y":{"field":"v","type":"quantitative","scale":{"domain":[-0.7,3.63]},"axis":{"values":[0,1,2,3],"title":null}}},"layer":[{"transform":[{"fold":["Males","Females"],"as":["k","v"]},{"filter":"isValid(datum.v)"}],"mark":"point","encoding":{"fill":{"field":"k","type":"nominal","scale":{"domain":["Males","Females"],"range":["blue","red"]}},"shape":{"field":"k","type":"nominal","scale":{"domain":["Males","Females"],"range":["triangle-up","M0,-1L0.85,0L0,1L-0.85,0Z"]}}}},{"transform":[{"fold":["tM","tF"],"as":["k","v"]},{"filter":"isValid(datum.v)"}],"mark":"line","encoding":{"stroke":{"field":"k","type":"nominal","scale":{"domain":["tM","tF"],"range":["blue","red"]}},"strokeDash":{"field":"k","type":"nominal","scale":{"domain":["tM","tF"],"range":[[1,0],[8,5]]}}}}]},
{"title":"Gallbladder and bile duct","transform":[{"filter":"datum.s==='Gallbladder and bile duct'"}],"width":238,"height":154,"encoding":{"x":{"field":"yr","type":"quantitative","scale":{"domain":[1992.6,2017.4]},"axis":{"values":[1995,2005,2015],"title":null,"format":"d"}},"y":{"field":"v","type":"quantitative","scale":{"domain":[-0.44,2.26]},"axis":{"values":[0,0.5,1,1.5],"title":null}}},"layer":[{"transform":[{"fold":["Males","Females"],"as":["k","v"]},{"filter":"isValid(datum.v)"}],"mark":"point","encoding":{"fill":{"field":"k","type":"nominal","scale":{"domain":["Males","Females"],"range":["blue","red"]}},"shape":{"field":"k","type":"nominal","scale":{"domain":["Males","Females"],"range":["triangle-up","M0,-1L0.85,0L0,1L-0.85,0Z"]}}}},{"transform":[{"fold":["tM","tF"],"as":["k","v"]},{"filter":"isValid(datum.v)"}],"mark":"line","encoding":{"stroke":{"field":"k","type":"nominal","scale":{"domain":["tM","tF"],"range":["blue","red"]}},"strokeDash":{"field":"k","type":"nominal","scale":{"domain":["tM","tF"],"range":[[1,0],[8,5]]}}}}]},
{"title":"Head and neck","transform":[{"filter":"datum.s==='Head and neck'"}],"width":238,"height":154,"encoding":{"x":{"field":"yr","type":"quantitative","scale":{"domain":[1992.6,2017.4]},"axis":{"values":[1995,2005,2015],"title":null,"format":"d"}},"y":{"field":"v","type":"quantitative","scale":{"domain":[-2.33,12]},"axis":{"values":[0,5,10],"title":null}}},"layer":[{"transform":[{"fold":["Males","Females"],"as":["k","v"]},{"filter":"isValid(datum.v)"}],"mark":"point","encoding":{"fill":{"field":"k","type":"nominal","scale":{"domain":["Males","Females"],"range":["blue","red"]}},"shape":{"field":"k","type":"nominal","scale":{"domain":["Males","Females"],"range":["triangle-up","M0,-1L0.85,0L0,1L-0.85,0Z"]}}}},{"transform":[{"fold":["tM","tF"],"as":["k","v"]},{"filter":"isValid(datum.v)"}],"mark":"line","encoding":{"stroke":{"field":"k","type":"nominal","scale":{"domain":["tM","tF"],"range":["blue","red"]}},"strokeDash":{"field":"k","type":"nominal","scale":{"domain":["tM","tF"],"range":[[1,0],[8,5]]}}}}]},
{"title":"Kidney","transform":[{"filter":"datum.s==='Kidney'"}],"width":238,"height":154,"encoding":{"x":{"field":"yr","type":"quantitative","scale":{"domain":[1992.6,2017.4]},"axis":{"values":[1995,2005,2015],"title":null,"format":"d"}},"y":{"field":"v","type":"quantitative","scale":{"domain":[-1.16,6]},"axis":{"values":[0,5],"title":null}}},"layer":[{"transform":[{"fold":["Males","Females"],"as":["k","v"]},{"filter":"isValid(datum.v)"}],"mark":"point","encoding":{"fill":{"field":"k","type":"nominal","scale":{"domain":["Males","Females"],"range":["blue","red"]}},"shape":{"field":"k","type":"nominal","scale":{"domain":["Males","Females"],"range":["triangle-up","M0,-1L0.85,0L0,1L-0.85,0Z"]}}}},{"transform":[{"fold":["tM","tF"],"as":["k","v"]},{"filter":"isValid(datum.v)"}],"mark":"line","encoding":{"stroke":{"field":"k","type":"nominal","scale":{"domain":["tM","tF"],"range":["blue","red"]}},"strokeDash":{"field":"k","type":"nominal","scale":{"domain":["tM","tF"],"range":[[1,0],[8,5]]}}}}]},
{"title":"Leukaemia","transform":[{"filter":"datum.s==='Leukaemia'"}],"width":238,"height":154,"encoding":{"x":{"field":"yr","type":"quantitative","scale":{"domain":[1992.6,2017.4]},"axis":{"values":[1995,2005,2015],"title":null,"format":"d"}},"y":{"field":"v","type":"quantitative","scale":{"domain":[-1.59,8.2]},"axis":{"values":[0,2,4,6],"title":null}}},"layer":[{"transform":[{"fold":["Males","Females"],"as":["k","v"]},{"filter":"isValid(datum.v)"}],"mark":"point","encoding":{"fill":{"field":"k","type":"nominal","scale":{"domain":["Males","Females"],"range":["blue","red"]}},"shape":{"field":"k","type":"nominal","scale":{"domain":["Males","Females"],"range":["triangle-up","M0,-1L0.85,0L0,1L-0.85,0Z"]}}}},{"transform":[{"fold":["tM","tF"],"as":["k","v"]},{"filter":"isValid(datum.v)"}],"mark":"line","encoding":{"stroke":{"field":"k","type":"nominal","scale":{"domain":["tM","tF"],"range":["blue","red"]}},"strokeDash":{"field":"k","type":"nominal","scale":{"domain":["tM","tF"],"range":[[1,0],[8,5]]}}}}]},
{"title":"Liver","transform":[{"filter":"datum.s==='Liver'"}],"width":238,"height":154,"encoding":{"x":{"field":"yr","type":"quantitative","scale":{"domain":[1992.6,2017.4]},"axis":{"values":[1995,2005,2015],"title":null,"format":"d"}},"y":{"field":"v","type":"quantitative","scale":{"domain":[-1.86,9.6]},"axis":{"values":[0,2,4,6,8],"title":null}}},"layer":[{"transform":[{"fold":["Males","Females"],"as":["k","v"]},{"filter":"isValid(datum.v)"}],"mark":"point","encoding":{"fill":{"field":"k","type":"nominal","scale":{"domain":["Males","Females"],"range":["blue","red"]}},"shape":{"field":"k","type":"nominal","scale":{"domain":["Males","Females"],"range":["triangle-up","M0,-1L0.85,0L0,1L-0.85,0Z"]}}}},{"transform":[{"fold":["tM","tF"],"as":["k","v"]},{"filter":"isValid(datum.v)"}],"mark":"line","encoding":{"stroke":{"field":"k","type":"nominal","scale":{"domain":["tM","tF"],"range":["blue","red"]}},"strokeDash":{"field":"k","type":"nominal","scale":{"domain":["tM","tF"],"range":[[1,0],[8,5]]}}}}]},
{"title":"Lung","transform":[{"filter":"datum.s==='Lung'"}],"width":238,"height":154,"encoding":{"x":{"field":"yr","type":"quantitative","scale":{"domain":[1992.6,2017.4]},"axis":{"values":[1995,2005,2015],"title":null,"format":"d"}},"y":{"field":"v","type":"quantitative","scale":{"domain":[-14,72]},"axis":{"values":[0,20,40,60],"title":null}}},"layer":[{"transform":[{"fold":["Males","Females"],"as":["k","v"]},{"filter":"isValid(datum.v)"}],"mark":"point","encoding":{"fill":{"field":"k","type":"nominal","scale":{"domain":["Males","Females"],"range":["blue","red"]}},"shape":{"field":"k","type":"nominal","scale":{"domain":["Males","Females"],"range":["triangle-up","M0,-1L0.85,0L0,1L-0.85,0Z"]}}}},{"transform":[{"fold":["tM","tF"],"as":["k","v"]},{"filter":"isValid(datum.v)"}],"mark":"line","encoding":{"stroke":{"field":"k","type":"nominal","scale":{"domain":["tM","tF"],"range":["blue","red"]}},"strokeDash":{"field":"k","type":"nominal","scale":{"domain":["tM","tF"],"range":[[1,0],[8,5]]}}}}]},
{"title":"Melanoma","transform":[{"filter":"datum.s==='Melanoma'"}],"width":238,"height":154,"encoding":{"x":{"field":"yr","type":"quantitative","scale":{"domain":[1992.6,2017.4]},"axis":{"values":[1995,2005,2015],"title":null,"format":"d"}},"y":{"field":"v","type":"quantitative","scale":{"domain":[-1.59,8.2]},"axis":{"values":[0,2,4,6],"title":null}}},"layer":[{"transform":[{"fold":["Males","Females"],"as":["k","v"]},{"filter":"isValid(datum.v)"}],"mark":"point","encoding":{"fill":{"field":"k","type":"nominal","scale":{"domain":["Males","Females"],"range":["blue","red"]}},"shape":{"field":"k","type":"nominal","scale":{"domain":["Males","Females"],"range":["triangle-up","M0,-1L0.85,0L0,1L-0.85,0Z"]}}}},{"transform":[{"fold":["tM","tF"],"as":["k","v"]},{"filter":"isValid(datum.v)"}],"mark":"line","encoding":{"stroke":{"field":"k","type":"nominal","scale":{"domain":["tM","tF"],"range":["blue","red"]}},"strokeDash":{"field":"k","type":"nominal","scale":{"domain":["tM","tF"],"range":[[1,0],[8,5]]}}}}]},
{"title":"Non-Hodgkin lymphoma","transform":[{"filter":"datum.s==='Non-Hodgkin lymphoma'"}],"width":238,"height":154,"encoding":{"x":{"field":"yr","type":"quantitative","scale":{"domain":[1992.6,2017.4]},"axis":{"values":[1995,2005,2015],"title":null,"format":"d"}},"y":{"field":"v","type":"quantitative","scale":{"domain":[-1.86,9.6]},"axis":{"values":[0,2,4,6,8],"title":null}}},"layer":[{"transform":[{"fold":["Males","Females"],"as":["k","v"]},{"filter":"isValid(datum.v)"}],"mark":"point","encoding":{"fill":{"field":"k","type":"nominal","scale":{"domain":["Males","Females"],"range":["blue","red"]}},"shape":{"field":"k","type":"nominal","scale":{"domain":["Males","Females"],"range":["triangle-up","M0,-1L0.85,0L0,1L-0.85,0Z"]}}}},{"transform":[{"fold":["tM","tF"],"as":["k","v"]},{"filter":"isValid(datum.v)"}],"mark":"line","encoding":{"stroke":{"field":"k","type":"nominal","scale":{"domain":["tM","tF"],"range":["blue","red"]}},"strokeDash":{"field":"k","type":"nominal","scale":{"domain":["tM","tF"],"range":[[1,0],[8,5]]}}}}]},
{"title":"Oesophagus","transform":[{"filter":"datum.s==='Oesophagus'"}],"width":238,"height":154,"encoding":{"x":{"field":"yr","type":"quantitative","scale":{"domain":[1992.6,2017.4]},"axis":{"values":[1995,2005,2015],"title":null,"format":"d"}},"y":{"field":"v","type":"quantitative","scale":{"domain":[-1.55,8.0]},"axis":{"values":[0,2,4,6],"title":null}}},"layer":[{"transform":[{"fold":["Males","Females"],"as":["k","v"]},{"filter":"isValid(datum.v)"}],"mark":"point","encoding":{"fill":{"field":"k","type":"nominal","scale":{"domain":["Males","Females"],"range":["blue","red"]}},"shape":{"field":"k","type":"nominal","scale":{"domain":["Males","Females"],"range":["triangle-up","M0,-1L0.85,0L0,1L-0.85,0Z"]}}}},{"transform":[{"fold":["tM","tF"],"as":["k","v"]},{"filter":"isValid(datum.v)"}],"mark":"line","encoding":{"stroke":{"field":"k","type":"nominal","scale":{"domain":["tM","tF"],"range":["blue","red"]}},"strokeDash":{"field":"k","type":"nominal","scale":{"domain":["tM","tF"],"range":[[1,0],[8,5]]}}}}]},
{"title":"Ovary","transform":[{"filter":"datum.s==='Ovary'"}],"width":238,"height":154,"encoding":{"x":{"field":"yr","type":"quantitative","scale":{"domain":[1992.6,2017.4]},"axis":{"values":[1995,2005,2015],"title":null,"format":"d"}},"y":{"field":"v","type":"quantitative","scale":{"domain":[-1.88,9.7]},"axis":{"values":[0,2,4,6,8],"title":null}}},"layer":[{"transform":[{"fold":["Males","Females"],"as":["k","v"]},{"filter":"isValid(datum.v)"}],"mark":"point","encoding":{"fill":{"field":"k","type":"nominal","scale":{"domain":["Males","Females"],"range":["blue","red"]}},"shape":{"field":"k","type":"nominal","scale":{"domain":["Males","Females"],"range":["triangle-up","M0,-1L0.85,0L0,1L-0.85,0Z"]}}}},{"transform":[{"fold":["tM","tF"],"as":["k","v"]},{"filter":"isValid(datum.v)"}],"mark":"line","encoding":{"stroke":{"field":"k","type":"nominal","scale":{"domain":["tM","tF"],"range":["blue","red"]}},"strokeDash":{"field":"k","type":"nominal","scale":{"domain":["tM","tF"],"range":[[1,0],[8,5]]}}}}]},
{"title":"Pancreas","transform":[{"filter":"datum.s==='Pancreas'"}],"width":238,"height":154,"encoding":{"x":{"field":"yr","type":"quantitative","scale":{"domain":[1992.6,2017.4]},"axis":{"values":[1995,2005,2015],"title":null,"format":"d"}},"y":{"field":"v","type":"quantitative","scale":{"domain":[-1.88,9.7]},"axis":{"values":[0,2,4,6,8],"title":null}}},"layer":[{"transform":[{"fold":["Males","Females"],"as":["k","v"]},{"filter":"isValid(datum.v)"}],"mark":"point","encoding":{"fill":{"field":"k","type":"nominal","scale":{"domain":["Males","Females"],"range":["blue","red"]}},"shape":{"field":"k","type":"nominal","scale":{"domain":["Males","Females"],"range":["triangle-up","M0,-1L0.85,0L0,1L-0.85,0Z"]}}}},{"transform":[{"fold":["tM","tF"],"as":["k","v"]},{"filter":"isValid(datum.v)"}],"mark":"line","encoding":{"stroke":{"field":"k","type":"nominal","scale":{"domain":["tM","tF"],"range":["blue","red"]}},"strokeDash":{"field":"k","type":"nominal","scale":{"domain":["tM","tF"],"range":[[1,0],[8,5]]}}}}]},
{"title":"Prostate","transform":[{"filter":"datum.s==='Prostate'"}],"width":238,"height":154,"encoding":{"x":{"field":"yr","type":"quantitative","scale":{"domain":[1992.6,2017.4]},"axis":{"values":[1995,2005,2015],"title":null,"format":"d"}},"y":{"field":"v","type":"quantitative","scale":{"domain":[-3.57,18.4]},"axis":{"values":[0,5,10,15],"title":null}}},"layer":[{"transform":[{"fold":["Males","Females"],"as":["k","v"]},{"filter":"isValid(datum.v)"}],"mark":"point","encoding":{"fill":{"field":"k","type":"nominal","scale":{"domain":["Males","Females"],"range":["blue","red"]}},"shape":{"field":"k","type":"nominal","scale":{"domain":["Males","Females"],"range":["triangle-up","M0,-1L0.85,0L0,1L-0.85,0Z"]}}}},{"transform":[{"fold":["tM","tF"],"as":["k","v"]},{"filter":"isValid(datum.v)"}],"mark":"line","encoding":{"stroke":{"field":"k","type":"nominal","scale":{"domain":["tM","tF"],"range":["blue","red"]}},"strokeDash":{"field":"k","type":"nominal","scale":{"domain":["tM","tF"],"range":[[1,0],[8,5]]}}}}]},
{"title":"Stomach","transform":[{"filter":"datum.s==='Stomach'"}],"width":238,"height":154,"encoding":{"x":{"field":"yr","type":"quantitative","scale":{"domain":[1992.6,2017.4]},"axis":{"values":[1995,2005,2015],"title":null,"format":"d"}},"y":{"field":"v","type":"quantitative","scale":{"domain":[-1.88,9.7]},"axis":{"values":[0,2,4,6,8],"title":null}}},"layer":[{"transform":[{"fold":["Males","Females"],"as":["k","v"]},{"filter":"isValid(datum.v)"}],"mark":"point","encoding":{"fill":{"field":"k","type":"nominal","scale":{"domain":["Males","Females"],"range":["blue","red"]}},"shape":{"field":"k","type":"nominal","scale":{"domain":["Males","Females"],"range":["triangle-up","M0,-1L0.85,0L0,1L-0.85,0Z"]}}}},{"transform":[{"fold":["tM","tF"],"as":["k","v"]},{"filter":"isValid(datum.v)"}],"mark":"line","encoding":{"stroke":{"field":"k","type":"nominal","scale":{"domain":["tM","tF"],"range":["blue","red"]}},"strokeDash":{"field":"k","type":"nominal","scale":{"domain":["tM","tF"],"range":[[1,0],[8,5]]}}}}]},
{"title":"Testis","transform":[{"filter":"datum.s==='Testis'"}],"width":238,"height":154,"encoding":{"x":{"field":"yr","type":"quantitative","scale":{"domain":[1992.6,2017.4]},"axis":{"values":[1995,2005,2015],"title":null,"format":"d"}},"y":{"field":"v","type":"quantitative","scale":{"domain":[-0.1,0.52]},"axis":{"values":[0,0.1,0.2,0.3,0.4],"title":null}}},"layer":[{"transform":[{"fold":["Males","Females"],"as":["k","v"]},{"filter":"isValid(datum.v)"}],"mark":"point","encoding":{"fill":{"field":"k","type":"nominal","scale":{"domain":["Males","Females"],"range":["blue","red"]}},"shape":{"field":"k","type":"nominal","scale":{"domain":["Males","Females"],"range":["triangle-up","M0,-1L0.85,0L0,1L-0.85,0Z"]}}}},{"transform":[{"fold":["tM","tF"],"as":["k","v"]},{"filter":"isValid(datum.v)"}],"mark":"line","encoding":{"stroke":{"field":"k","type":"nominal","scale":{"domain":["tM","tF"],"range":["blue","red"]}},"strokeDash":{"field":"k","type":"nominal","scale":{"domain":["tM","tF"],"range":[[1,0],[8,5]]}}}}]},
{"title":"Thyroid","transform":[{"filter":"datum.s==='Thyroid'"}],"width":238,"height":154,"encoding":{"x":{"field":"yr","type":"quantitative","scale":{"domain":[1992.6,2017.4]},"axis":{"values":[1995,2005,2015],"title":null,"format":"d"}},"y":{"field":"v","type":"quantitative","scale":{"domain":[-0.099,0.51]},"axis":{"values":[0,0.1,0.2,0.3,0.4],"title":null}}},"layer":[{"transform":[{"fold":["Males","Females"],"as":["k","v"]},{"filter":"isValid(datum.v)"}],"mark":"point","encoding":{"fill":{"field":"k","type":"nominal","scale":{"domain":["Males","Females"],"range":["blue","red"]}},"shape":{"field":"k","type":"nominal","scale":{"domain":["Males","Females"],"range":["triangle-up","M0,-1L0.85,0L0,1L-0.85,0Z"]}}}},{"transform":[{"fold":["tM","tF"],"as":["k","v"]},{"filter":"isValid(datum.v)"}],"mark":"line","encoding":{"stroke":{"field":"k","type":"nominal","scale":{"domain":["tM","tF"],"range":["blue","red"]}},"strokeDash":{"field":"k","type":"nominal","scale":{"domain":["tM","tF"],"range":[[1,0],[8,5]]}}}}]},
{"title":"Unknown primary","transform":[{"filter":"datum.s==='Unknown primary'"}],"width":238,"height":154,"encoding":{"x":{"field":"yr","type":"quantitative","scale":{"domain":[1992.6,2017.4]},"axis":{"values":[1995,2005,2015],"title":"Year","titleFontSize":31,"titlePadding":10,"titleX":95,"format":"d"}},"y":{"field":"v","type":"quantitative","scale":{"domain":[-2.58,13.3]},"axis":{"values":[0,5,10],"title":null}}},"layer":[{"transform":[{"fold":["Males","Females"],"as":["k","v"]},{"filter":"isValid(datum.v)"}],"mark":"point","encoding":{"fill":{"field":"k","type":"nominal","scale":{"domain":["Males","Females"],"range":["blue","red"]}},"shape":{"field":"k","type":"nominal","scale":{"domain":["Males","Females"],"range":["triangle-up","M0,-1L0.85,0L0,1L-0.85,0Z"]}}}},{"transform":[{"fold":["tM","tF"],"as":["k","v"]},{"filter":"isValid(datum.v)"}],"mark":"line","encoding":{"stroke":{"field":"k","type":"nominal","scale":{"domain":["tM","tF"],"range":["blue","red"]}},"strokeDash":{"field":"k","type":"nominal","scale":{"domain":["tM","tF"],"range":[[1,0],[8,5]]}}}}]},
{"title":"Other cancers","transform":[{"filter":"datum.s==='Other cancers'"}],"width":238,"height":154,"encoding":{"x":{"field":"yr","type":"quantitative","scale":{"domain":[1992.6,2017.4]},"axis":{"values":[1995,2005,2015],"title":null,"format":"d"}},"y":{"field":"v","type":"quantitative","scale":{"domain":[-3.53,18.2]},"axis":{"values":[0,5,10,15],"title":null}}},"layer":[{"transform":[{"fold":["Males","Females"],"as":["k","v"]},{"filter":"isValid(datum.v)"}],"mark":"point","encoding":{"fill":{"field":"k","type":"nominal","scale":{"domain":["Males","Females"],"range":["blue","red"]}},"shape":{"field":"k","type":"nominal","scale":{"domain":["Males","Females"],"range":["triangle-up","M0,-1L0.85,0L0,1L-0.85,0Z"]}}}},{"transform":[{"fold":["tM","tF"],"as":["k","v"]},{"filter":"isValid(datum.v)"}],"mark":"line","encoding":{"stroke":{"field":"k","type":"nominal","scale":{"domain":["tM","tF"],"range":["blue","red"]}},"strokeDash":{"field":"k","type":"nominal","scale":{"domain":["tM","tF"],"range":[[1,0],[8,5]]}}}}]},
{"title":"All cancers aged 0-14 years","transform":[{"filter":"datum.s==='All cancers aged 0-14 years'"}],"width":238,"height":154,"encoding":{"x":{"field":"yr","type":"quantitative","scale":{"domain":[1992.6,2017.4]},"axis":{"values":[1995,2005,2015],"title":null,"format":"d"}},"y":{"field":"v","type":"quantitative","scale":{"domain":[-1.17,6.05]},"axis":{"values":[0,5],"title":null}}},"layer":[{"transform":[{"fold":["Males","Females"],"as":["k","v"]},{"filter":"isValid(datum.v)"}],"mark":"point","encoding":{"fill":{"field":"k","type":"nominal","scale":{"domain":["Males","Females"],"range":["blue","red"]}},"shape":{"field":"k","type":"nominal","scale":{"domain":["Males","Females"],"range":["triangle-up","M0,-1L0.85,0L0,1L-0.85,0Z"]}}}},{"transform":[{"fold":["tM","tF"],"as":["k","v"]},{"filter":"isValid(datum.v)"}],"mark":"line","encoding":{"stroke":{"field":"k","type":"nominal","scale":{"domain":["tM","tF"],"range":["blue","red"]}},"strokeDash":{"field":"k","type":"nominal","scale":{"domain":["tM","tF"],"range":[[1,0],[8,5]]}}}}]}
]
}
]
}
],
"config": {
"font": "Liberation Sans",
"view": {"stroke": null},
"point": {"filled": true, "size": 190, "opacity": 1},
"line": {"strokeWidth": 2.8},
"axis": {"grid": false, "domainColor": "#000", "tickColor": "#000", "labelColor": "#111", "labelFontSize": 21, "titleColor": "#000", "titleFontWeight": "normal"},
"axisX": {"domainWidth": 2.5, "tickSize": 6, "labelPadding": 8},
"axisY": {"domainWidth": 1.3, "tickSize": 4, "labelPadding": 8, "labelExpr": "replace(format(datum.value,'~g'),'0.','.')"},
"title": {"fontSize": 21, "fontWeight": "bold", "offset": 6, "color": "#000"},
"legend": {"direction": "horizontal", "titleOrient": "left", "titleFontSize": 27, "titleFontWeight": "bold", "labelFontSize": 27, "titleColor": "#000", "labelColor": "#000", "titleLimit": 600, "labelLimit": 300, "columnPadding": 60, "titlePadding": 30}
}
}
